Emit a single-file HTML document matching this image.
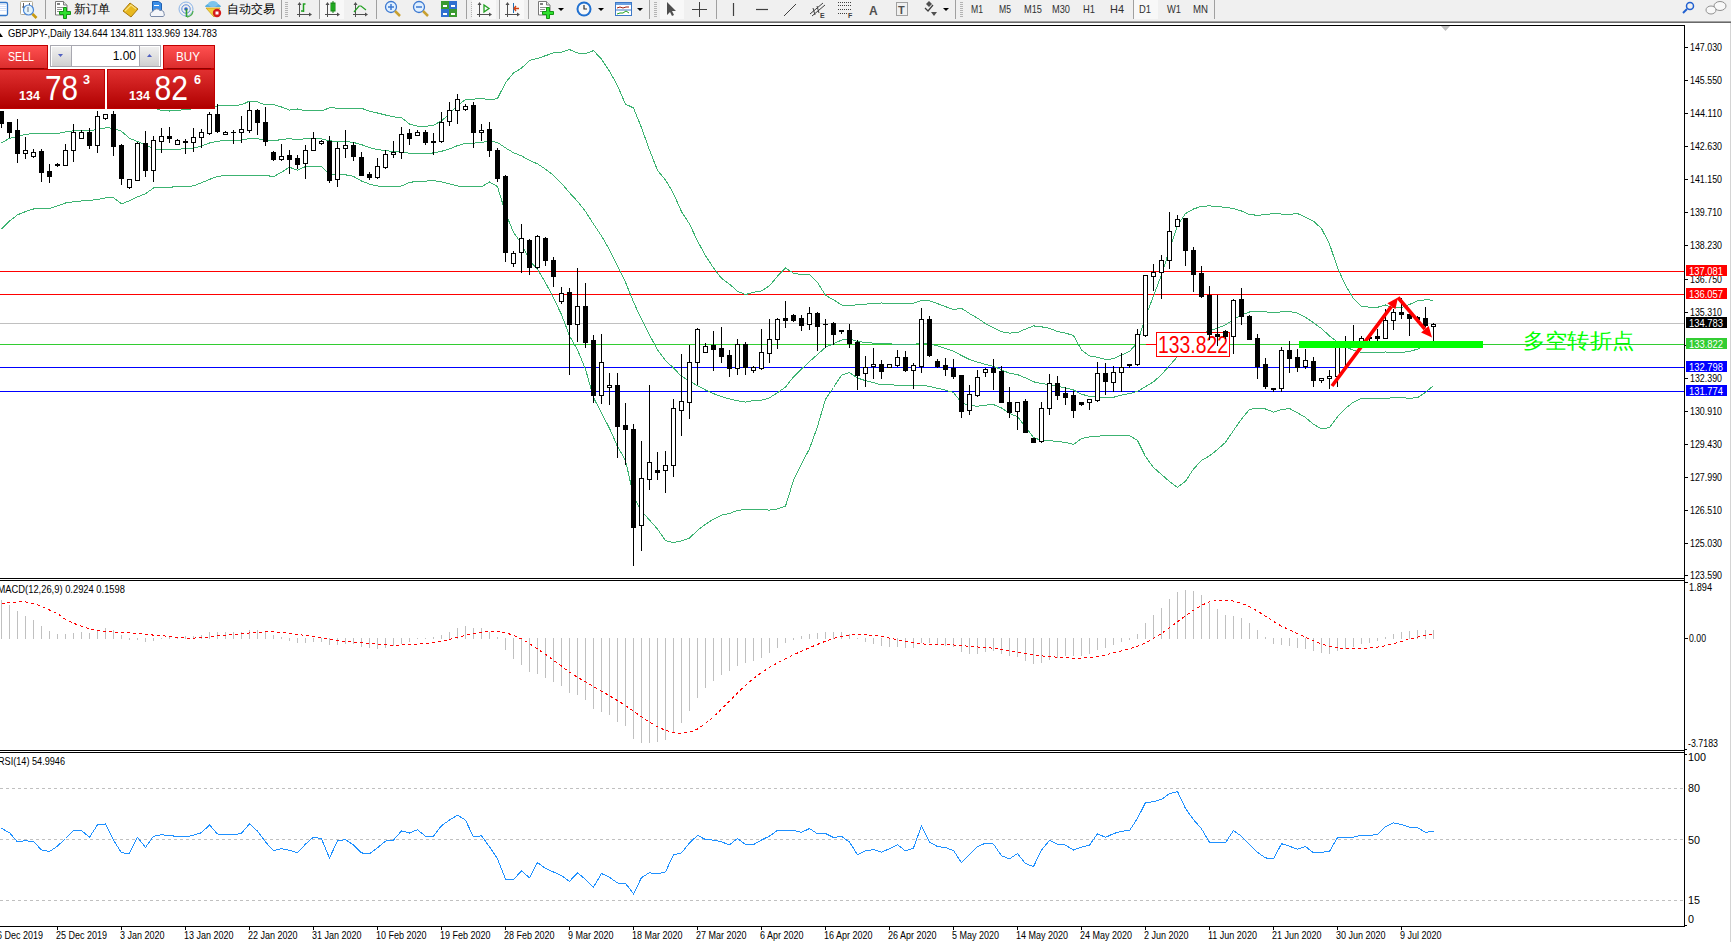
<!DOCTYPE html>
<html><head><meta charset="utf-8"><style>
html,body{margin:0;padding:0;background:#fff;}
body{width:1731px;height:942px;overflow:hidden;position:relative;}
svg{position:absolute;left:0;top:0;display:block;}
</style></head><body>
<svg width="1731" height="942" viewBox="0 0 1731 942" font-family="Liberation Sans, sans-serif">
<rect x="0" y="23" width="1731" height="919" fill="#fff"/>
<rect x="1730" y="23" width="1" height="919" fill="#d4d4d4"/>
<rect x="0" y="271" width="1684" height="1" fill="#ff0000"/>
<rect x="0" y="294" width="1684" height="1" fill="#ff0000"/>
<rect x="0" y="323" width="1684" height="1" fill="#c0c0c0"/>
<rect x="0" y="344" width="1146" height="1" fill="#32cd32"/>
<rect x="1146" y="344" width="11" height="1" fill="#ff0000"/>
<rect x="1230" y="344" width="454" height="1" fill="#32cd32"/>
<rect x="0" y="367" width="1684" height="1" fill="#0000ff"/>
<rect x="0" y="391" width="1684" height="1" fill="#0000ff"/>
<polyline points="153.5,108.2 161.5,110.3 169.5,111.0 177.5,110.3 185.5,109.7 193.5,108.7 201.5,107.8 209.5,106.6 217.5,106.1 225.5,105.2 233.5,105.2 241.5,104.9 249.5,101.1 257.5,101.9 265.5,105.0 273.5,104.7 281.5,107.0 289.5,110.1 297.5,109.0 305.5,110.9 313.5,110.8 321.5,111.0 329.5,107.8 337.5,108.1 345.5,108.2 353.5,108.5 361.5,108.2 369.5,111.3 377.5,113.0 385.5,115.0 393.5,116.9 401.5,117.7 409.5,124.0 417.5,126.2 425.5,126.4 433.5,125.3 441.5,120.8 449.5,113.9 457.5,105.3 465.5,99.7 473.5,99.2 481.5,98.2 489.5,100.0 497.5,98.5 505.5,82.8 513.5,72.9 521.5,68.2 529.5,60.3 537.5,58.4 545.5,55.7 553.5,52.9 561.5,52.1 569.5,49.6 577.5,53.0 585.5,53.6 593.5,50.6 601.5,59.1 609.5,71.1 617.5,85.7 625.5,104.2 633.5,107.9 641.5,127.7 649.5,150.0 657.5,170.3 665.5,180.0 673.5,193.5 681.5,211.7 689.5,224.0 697.5,241.0 705.5,255.6 713.5,268.0 721.5,278.3 729.5,284.2 737.5,291.2 745.5,294.6 753.5,292.2 761.5,291.0 769.5,285.7 777.5,276.2 785.5,268.0 793.5,273.2 801.5,274.5 809.5,274.5 817.5,282.3 825.5,295.4 833.5,299.7 841.5,305.0 849.5,305.6 857.5,304.7 865.5,304.1 873.5,303.7 881.5,303.0 889.5,303.2 897.5,303.3 905.5,303.1 913.5,303.2 921.5,300.4 929.5,300.9 937.5,303.6 945.5,306.6 953.5,309.7 961.5,308.3 969.5,313.5 977.5,318.1 985.5,323.6 993.5,327.9 1001.5,331.8 1009.5,333.1 1017.5,332.5 1025.5,329.1 1033.5,325.9 1041.5,326.8 1049.5,328.4 1057.5,331.5 1065.5,333.1 1073.5,335.5 1081.5,350.0 1089.5,355.9 1097.5,357.3 1105.5,359.4 1113.5,358.8 1121.5,355.0 1129.5,351.5 1137.5,342.5 1145.5,316.9 1153.5,296.1 1161.5,274.8 1169.5,249.7 1177.5,225.6 1185.5,213.6 1193.5,209.0 1201.5,206.3 1209.5,205.9 1217.5,206.4 1225.5,207.5 1233.5,208.4 1241.5,211.0 1249.5,214.7 1257.5,215.2 1265.5,214.8 1273.5,213.3 1281.5,214.1 1289.5,214.4 1297.5,213.5 1305.5,217.2 1313.5,221.2 1321.5,228.5 1329.5,244.1 1337.5,267.6 1345.5,285.4 1353.5,298.6 1361.5,306.6 1369.5,307.1 1377.5,307.3 1385.5,305.0 1393.5,307.9 1401.5,307.7 1409.5,304.5 1417.5,300.7 1425.5,299.8 1433.5,300.2" fill="none" stroke="#3cb371" stroke-width="1" shape-rendering="crispEdges"/>
<polyline points="1.5,142.8 9.5,138.3 17.5,136.4 25.5,134.5 33.5,133.5 41.5,133.5 49.5,133.5 57.5,133.5 65.5,132.0 73.5,130.7 81.5,130.7 89.5,130.7 97.5,129.4 105.5,127.9 113.5,128.1 121.5,131.3 129.5,138.3 137.5,141.5 145.5,144.7 153.5,148.9 161.5,149.6 169.5,149.9 177.5,149.2 185.5,148.8 193.5,148.0 201.5,146.1 209.5,143.0 217.5,141.3 225.5,140.3 233.5,140.3 241.5,140.2 249.5,138.5 257.5,138.8 265.5,140.1 273.5,140.7 281.5,139.6 289.5,138.6 297.5,139.7 305.5,138.7 313.5,138.6 321.5,138.8 329.5,140.9 337.5,141.3 345.5,141.5 353.5,142.5 361.5,144.6 369.5,147.7 377.5,149.5 385.5,150.6 393.5,151.6 401.5,151.9 409.5,153.2 417.5,153.7 425.5,153.8 433.5,152.9 441.5,151.3 449.5,148.9 457.5,145.6 465.5,143.4 473.5,143.1 481.5,142.5 489.5,141.0 497.5,142.5 505.5,147.9 513.5,152.7 521.5,155.9 529.5,160.4 537.5,163.9 545.5,169.2 553.5,175.4 561.5,183.4 569.5,192.7 577.5,201.4 585.5,211.4 593.5,224.1 601.5,236.0 609.5,249.8 617.5,266.1 625.5,282.3 633.5,302.0 641.5,319.4 649.5,335.0 657.5,349.7 665.5,360.4 673.5,368.1 681.5,376.3 689.5,381.0 697.5,385.7 705.5,390.0 713.5,393.6 721.5,396.7 729.5,398.9 737.5,400.8 745.5,402.1 753.5,400.6 761.5,400.2 769.5,397.9 777.5,392.6 785.5,387.1 793.5,376.8 801.5,369.1 809.5,361.6 817.5,354.4 825.5,347.3 833.5,343.6 841.5,340.1 849.5,339.1 857.5,341.4 865.5,342.4 873.5,343.2 881.5,343.9 889.5,343.8 897.5,344.4 905.5,344.6 913.5,344.5 921.5,342.8 929.5,343.6 937.5,345.9 945.5,348.4 953.5,351.2 961.5,355.5 969.5,359.5 977.5,362.1 985.5,364.4 993.5,366.3 1001.5,369.8 1009.5,373.3 1017.5,374.6 1025.5,377.9 1033.5,381.8 1041.5,383.6 1049.5,384.6 1057.5,386.4 1065.5,387.8 1073.5,390.0 1081.5,394.2 1089.5,396.4 1097.5,396.8 1105.5,397.4 1113.5,397.3 1121.5,395.1 1129.5,393.6 1137.5,391.4 1145.5,386.7 1153.5,381.8 1161.5,374.6 1169.5,365.6 1177.5,356.5 1185.5,347.4 1193.5,339.0 1201.5,333.4 1209.5,330.9 1217.5,328.0 1225.5,324.9 1233.5,319.4 1241.5,315.0 1249.5,312.0 1257.5,311.7 1265.5,311.9 1273.5,312.7 1281.5,311.9 1289.5,311.5 1297.5,313.1 1305.5,317.4 1313.5,322.7 1321.5,328.6 1329.5,335.9 1337.5,342.2 1345.5,346.9 1353.5,350.3 1361.5,352.5 1369.5,352.7 1377.5,352.8 1385.5,352.0 1393.5,352.6 1401.5,352.5 1409.5,351.5 1417.5,349.1 1425.5,346.1 1433.5,342.8" fill="none" stroke="#3cb371" stroke-width="1" shape-rendering="crispEdges"/>
<polyline points="1.5,228.8 9.5,221.1 17.5,214.8 25.5,211.6 33.5,209.0 41.5,208.7 49.5,208.4 57.5,205.9 65.5,203.0 73.5,201.8 81.5,201.0 89.5,200.5 97.5,199.5 105.5,198.0 113.5,197.6 121.5,203.9 129.5,200.8 137.5,196.9 145.5,193.7 153.5,188.0 161.5,187.3 169.5,187.2 177.5,186.7 185.5,186.4 193.5,185.9 201.5,182.8 209.5,179.4 217.5,176.4 225.5,175.4 233.5,175.4 241.5,175.4 249.5,175.9 257.5,175.6 265.5,175.2 273.5,176.8 281.5,172.2 289.5,167.2 297.5,170.3 305.5,166.5 313.5,166.4 321.5,166.6 329.5,174.0 337.5,174.5 345.5,174.8 353.5,176.4 361.5,181.0 369.5,184.1 377.5,186.0 385.5,186.3 393.5,186.3 401.5,186.0 409.5,182.5 417.5,181.2 425.5,181.1 433.5,180.6 441.5,181.8 449.5,183.8 457.5,185.9 465.5,187.0 473.5,186.9 481.5,186.7 489.5,182.0 497.5,186.6 505.5,212.9 513.5,232.4 521.5,243.5 529.5,260.5 537.5,269.3 545.5,282.7 553.5,297.9 561.5,314.6 569.5,335.8 577.5,349.9 585.5,369.2 593.5,397.6 601.5,413.0 609.5,428.4 617.5,446.5 625.5,460.3 633.5,496.1 641.5,511.2 649.5,520.0 657.5,529.1 665.5,540.7 673.5,542.7 681.5,540.8 689.5,538.1 697.5,530.4 705.5,524.3 713.5,519.2 721.5,515.2 729.5,513.5 737.5,510.4 745.5,509.5 753.5,509.1 761.5,509.4 769.5,510.1 777.5,508.9 785.5,506.2 793.5,480.3 801.5,463.7 809.5,448.8 817.5,426.5 825.5,399.2 833.5,387.5 841.5,375.1 849.5,372.6 857.5,378.0 865.5,380.7 873.5,382.6 881.5,384.9 889.5,384.4 897.5,385.5 905.5,386.0 913.5,385.7 921.5,385.3 929.5,386.3 937.5,388.3 945.5,390.1 953.5,392.6 961.5,402.7 969.5,405.6 977.5,406.2 985.5,405.1 993.5,404.6 1001.5,407.9 1009.5,413.5 1017.5,416.7 1025.5,426.7 1033.5,437.6 1041.5,440.4 1049.5,440.7 1057.5,441.4 1065.5,442.4 1073.5,444.5 1081.5,438.4 1089.5,436.9 1097.5,436.3 1105.5,435.5 1113.5,435.7 1121.5,435.1 1129.5,435.6 1137.5,440.4 1145.5,456.6 1153.5,467.4 1161.5,474.5 1169.5,481.6 1177.5,487.4 1185.5,481.2 1193.5,469.0 1201.5,460.5 1209.5,455.9 1217.5,449.5 1225.5,442.3 1233.5,430.5 1241.5,419.1 1249.5,409.4 1257.5,408.1 1265.5,409.0 1273.5,412.1 1281.5,409.6 1289.5,408.5 1297.5,412.8 1305.5,417.5 1313.5,424.3 1321.5,428.8 1329.5,427.6 1337.5,416.7 1345.5,408.4 1353.5,402.1 1361.5,398.3 1369.5,398.2 1377.5,398.2 1385.5,399.0 1393.5,397.3 1401.5,397.4 1409.5,398.4 1417.5,397.6 1425.5,392.4 1433.5,385.5" fill="none" stroke="#3cb371" stroke-width="1" shape-rendering="crispEdges"/>
<rect x="1156.5" y="332.5" width="73" height="24" fill="#fff" stroke="#ff0000" stroke-width="1"/>
<text x="1158" y="353" font-size="23" fill="#ff0000" text-anchor="start" font-weight="normal" textLength="70" lengthAdjust="spacingAndGlyphs" >133.822</text>
<g shape-rendering="crispEdges"><rect x="1" y="111" width="1" height="17" fill="#000"/><rect x="-1" y="111" width="5" height="13" fill="#000"/><rect x="9" y="122" width="1" height="16" fill="#000"/><rect x="7" y="122" width="5" height="11" fill="#000"/><rect x="17" y="119" width="1" height="44" fill="#000"/><rect x="15" y="130" width="5" height="24" fill="#000"/><rect x="25" y="137" width="1" height="22" fill="#000"/><rect x="23" y="150" width="5" height="4" fill="#000"/><rect x="24" y="151" width="3" height="2" fill="#fff"/><rect x="33" y="149" width="1" height="9" fill="#000"/><rect x="31" y="152" width="5" height="5" fill="#000"/><rect x="32" y="153" width="3" height="3" fill="#fff"/><rect x="41" y="149" width="1" height="33" fill="#000"/><rect x="39" y="151" width="5" height="22" fill="#000"/><rect x="49" y="164" width="1" height="19" fill="#000"/><rect x="47" y="171" width="5" height="6" fill="#000"/><rect x="57" y="163" width="1" height="4" fill="#000"/><rect x="55" y="164" width="5" height="2" fill="#000"/><rect x="65" y="144" width="1" height="22" fill="#000"/><rect x="63" y="150" width="5" height="16" fill="#000"/><rect x="64" y="151" width="3" height="14" fill="#fff"/><rect x="73" y="124" width="1" height="38" fill="#000"/><rect x="71" y="132" width="5" height="19" fill="#000"/><rect x="72" y="133" width="3" height="17" fill="#fff"/><rect x="81" y="130" width="1" height="9" fill="#000"/><rect x="79" y="132" width="5" height="7" fill="#000"/><rect x="80" y="133" width="3" height="5" fill="#fff"/><rect x="89" y="128" width="1" height="21" fill="#000"/><rect x="87" y="132" width="5" height="14" fill="#000"/><rect x="97" y="111" width="1" height="42" fill="#000"/><rect x="95" y="116" width="5" height="30" fill="#000"/><rect x="96" y="117" width="3" height="28" fill="#fff"/><rect x="105" y="114" width="1" height="6" fill="#000"/><rect x="103" y="114" width="5" height="5" fill="#000"/><rect x="104" y="115" width="3" height="3" fill="#fff"/><rect x="113" y="111" width="1" height="45" fill="#000"/><rect x="111" y="114" width="5" height="33" fill="#000"/><rect x="121" y="144" width="1" height="41" fill="#000"/><rect x="119" y="145" width="5" height="34" fill="#000"/><rect x="129" y="179" width="1" height="10" fill="#000"/><rect x="127" y="179" width="5" height="9" fill="#000"/><rect x="128" y="180" width="3" height="7" fill="#fff"/><rect x="137" y="142" width="1" height="39" fill="#000"/><rect x="135" y="143" width="5" height="38" fill="#000"/><rect x="136" y="144" width="3" height="36" fill="#fff"/><rect x="145" y="131" width="1" height="46" fill="#000"/><rect x="143" y="143" width="5" height="28" fill="#000"/><rect x="153" y="136" width="1" height="46" fill="#000"/><rect x="151" y="140" width="5" height="31" fill="#000"/><rect x="152" y="141" width="3" height="29" fill="#fff"/><rect x="161" y="128" width="1" height="25" fill="#000"/><rect x="159" y="136" width="5" height="6" fill="#000"/><rect x="160" y="137" width="3" height="4" fill="#fff"/><rect x="169" y="127" width="1" height="16" fill="#000"/><rect x="167" y="136" width="5" height="3" fill="#000"/><rect x="177" y="139" width="1" height="6" fill="#000"/><rect x="175" y="140" width="5" height="5" fill="#000"/><rect x="176" y="141" width="3" height="3" fill="#fff"/><rect x="185" y="139" width="1" height="15" fill="#000"/><rect x="183" y="141" width="5" height="2" fill="#000"/><rect x="193" y="128" width="1" height="24" fill="#000"/><rect x="191" y="137" width="5" height="6" fill="#000"/><rect x="192" y="138" width="3" height="4" fill="#fff"/><rect x="201" y="129" width="1" height="19" fill="#000"/><rect x="199" y="132" width="5" height="6" fill="#000"/><rect x="200" y="133" width="3" height="4" fill="#fff"/><rect x="209" y="112" width="1" height="23" fill="#000"/><rect x="207" y="114" width="5" height="20" fill="#000"/><rect x="208" y="115" width="3" height="18" fill="#fff"/><rect x="217" y="104" width="1" height="29" fill="#000"/><rect x="215" y="114" width="5" height="18" fill="#000"/><rect x="225" y="131" width="1" height="4" fill="#000"/><rect x="223" y="132" width="5" height="3" fill="#000"/><rect x="224" y="133" width="3" height="1" fill="#fff"/><rect x="233" y="130" width="1" height="14" fill="#000"/><rect x="231" y="132" width="5" height="1" fill="#000"/><rect x="241" y="116" width="1" height="27" fill="#000"/><rect x="239" y="129" width="5" height="4" fill="#000"/><rect x="240" y="130" width="3" height="2" fill="#fff"/><rect x="249" y="102" width="1" height="31" fill="#000"/><rect x="247" y="110" width="5" height="21" fill="#000"/><rect x="248" y="111" width="3" height="19" fill="#fff"/><rect x="257" y="109" width="1" height="26" fill="#000"/><rect x="255" y="110" width="5" height="13" fill="#000"/><rect x="265" y="107" width="1" height="39" fill="#000"/><rect x="263" y="122" width="5" height="20" fill="#000"/><rect x="273" y="151" width="1" height="10" fill="#000"/><rect x="271" y="152" width="5" height="8" fill="#000"/><rect x="281" y="144" width="1" height="17" fill="#000"/><rect x="279" y="156" width="5" height="4" fill="#000"/><rect x="280" y="157" width="3" height="2" fill="#fff"/><rect x="289" y="150" width="1" height="24" fill="#000"/><rect x="287" y="155" width="5" height="5" fill="#000"/><rect x="297" y="155" width="1" height="14" fill="#000"/><rect x="295" y="158" width="5" height="7" fill="#000"/><rect x="305" y="145" width="1" height="34" fill="#000"/><rect x="303" y="150" width="5" height="14" fill="#000"/><rect x="304" y="151" width="3" height="12" fill="#fff"/><rect x="313" y="132" width="1" height="19" fill="#000"/><rect x="311" y="138" width="5" height="13" fill="#000"/><rect x="312" y="139" width="3" height="11" fill="#fff"/><rect x="321" y="140" width="1" height="5" fill="#000"/><rect x="319" y="141" width="5" height="3" fill="#000"/><rect x="320" y="142" width="3" height="1" fill="#fff"/><rect x="329" y="136" width="1" height="47" fill="#000"/><rect x="327" y="141" width="5" height="40" fill="#000"/><rect x="337" y="142" width="1" height="45" fill="#000"/><rect x="335" y="148" width="5" height="32" fill="#000"/><rect x="336" y="149" width="3" height="30" fill="#fff"/><rect x="345" y="130" width="1" height="28" fill="#000"/><rect x="343" y="145" width="5" height="4" fill="#000"/><rect x="344" y="146" width="3" height="2" fill="#fff"/><rect x="353" y="142" width="1" height="19" fill="#000"/><rect x="351" y="145" width="5" height="12" fill="#000"/><rect x="361" y="152" width="1" height="24" fill="#000"/><rect x="359" y="157" width="5" height="19" fill="#000"/><rect x="369" y="172" width="1" height="8" fill="#000"/><rect x="367" y="174" width="5" height="4" fill="#000"/><rect x="377" y="158" width="1" height="21" fill="#000"/><rect x="375" y="166" width="5" height="12" fill="#000"/><rect x="376" y="167" width="3" height="10" fill="#fff"/><rect x="385" y="150" width="1" height="19" fill="#000"/><rect x="383" y="154" width="5" height="14" fill="#000"/><rect x="384" y="155" width="3" height="12" fill="#fff"/><rect x="393" y="141" width="1" height="17" fill="#000"/><rect x="391" y="152" width="5" height="3" fill="#000"/><rect x="392" y="153" width="3" height="1" fill="#fff"/><rect x="401" y="127" width="1" height="32" fill="#000"/><rect x="399" y="134" width="5" height="19" fill="#000"/><rect x="400" y="135" width="3" height="17" fill="#fff"/><rect x="409" y="129" width="1" height="16" fill="#000"/><rect x="407" y="133" width="5" height="6" fill="#000"/><rect x="417" y="130" width="1" height="6" fill="#000"/><rect x="415" y="132" width="5" height="4" fill="#000"/><rect x="416" y="133" width="3" height="2" fill="#fff"/><rect x="425" y="130" width="1" height="15" fill="#000"/><rect x="423" y="132" width="5" height="11" fill="#000"/><rect x="433" y="133" width="1" height="22" fill="#000"/><rect x="431" y="141" width="5" height="2" fill="#000"/><rect x="441" y="112" width="1" height="31" fill="#000"/><rect x="439" y="122" width="5" height="20" fill="#000"/><rect x="440" y="123" width="3" height="18" fill="#fff"/><rect x="449" y="102" width="1" height="24" fill="#000"/><rect x="447" y="110" width="5" height="12" fill="#000"/><rect x="448" y="111" width="3" height="10" fill="#fff"/><rect x="457" y="94" width="1" height="30" fill="#000"/><rect x="455" y="99" width="5" height="12" fill="#000"/><rect x="456" y="100" width="3" height="10" fill="#fff"/><rect x="465" y="104" width="1" height="7" fill="#000"/><rect x="463" y="106" width="5" height="4" fill="#000"/><rect x="464" y="107" width="3" height="2" fill="#fff"/><rect x="473" y="102" width="1" height="46" fill="#000"/><rect x="471" y="105" width="5" height="28" fill="#000"/><rect x="481" y="124" width="1" height="17" fill="#000"/><rect x="479" y="130" width="5" height="3" fill="#000"/><rect x="480" y="131" width="3" height="1" fill="#fff"/><rect x="489" y="122" width="1" height="35" fill="#000"/><rect x="487" y="129" width="5" height="22" fill="#000"/><rect x="497" y="148" width="1" height="34" fill="#000"/><rect x="495" y="150" width="5" height="29" fill="#000"/><rect x="505" y="175" width="1" height="87" fill="#000"/><rect x="503" y="176" width="5" height="77" fill="#000"/><rect x="513" y="251" width="1" height="16" fill="#000"/><rect x="511" y="253" width="5" height="11" fill="#000"/><rect x="512" y="254" width="3" height="9" fill="#fff"/><rect x="521" y="224" width="1" height="49" fill="#000"/><rect x="519" y="238" width="5" height="15" fill="#000"/><rect x="520" y="239" width="3" height="13" fill="#fff"/><rect x="529" y="239" width="1" height="36" fill="#000"/><rect x="527" y="240" width="5" height="28" fill="#000"/><rect x="537" y="235" width="1" height="34" fill="#000"/><rect x="535" y="236" width="5" height="32" fill="#000"/><rect x="536" y="237" width="3" height="30" fill="#fff"/><rect x="545" y="237" width="1" height="29" fill="#000"/><rect x="543" y="238" width="5" height="23" fill="#000"/><rect x="553" y="257" width="1" height="30" fill="#000"/><rect x="551" y="260" width="5" height="17" fill="#000"/><rect x="561" y="287" width="1" height="17" fill="#000"/><rect x="559" y="293" width="5" height="9" fill="#000"/><rect x="560" y="294" width="3" height="7" fill="#fff"/><rect x="569" y="288" width="1" height="87" fill="#000"/><rect x="567" y="292" width="5" height="33" fill="#000"/><rect x="577" y="268" width="1" height="74" fill="#000"/><rect x="575" y="306" width="5" height="19" fill="#000"/><rect x="576" y="307" width="3" height="17" fill="#fff"/><rect x="585" y="283" width="1" height="65" fill="#000"/><rect x="583" y="306" width="5" height="37" fill="#000"/><rect x="593" y="335" width="1" height="68" fill="#000"/><rect x="591" y="340" width="5" height="56" fill="#000"/><rect x="601" y="334" width="1" height="70" fill="#000"/><rect x="599" y="362" width="5" height="34" fill="#000"/><rect x="600" y="363" width="3" height="32" fill="#fff"/><rect x="609" y="373" width="1" height="32" fill="#000"/><rect x="607" y="385" width="5" height="3" fill="#000"/><rect x="608" y="386" width="3" height="1" fill="#fff"/><rect x="617" y="373" width="1" height="85" fill="#000"/><rect x="615" y="385" width="5" height="42" fill="#000"/><rect x="625" y="403" width="1" height="62" fill="#000"/><rect x="623" y="425" width="5" height="5" fill="#000"/><rect x="633" y="424" width="1" height="142" fill="#000"/><rect x="631" y="429" width="5" height="99" fill="#000"/><rect x="641" y="441" width="1" height="110" fill="#000"/><rect x="639" y="478" width="5" height="48" fill="#000"/><rect x="640" y="479" width="3" height="46" fill="#fff"/><rect x="649" y="385" width="1" height="105" fill="#000"/><rect x="647" y="462" width="5" height="18" fill="#000"/><rect x="648" y="463" width="3" height="16" fill="#fff"/><rect x="657" y="452" width="1" height="28" fill="#000"/><rect x="655" y="470" width="5" height="3" fill="#000"/><rect x="665" y="451" width="1" height="42" fill="#000"/><rect x="663" y="465" width="5" height="6" fill="#000"/><rect x="664" y="466" width="3" height="4" fill="#fff"/><rect x="673" y="399" width="1" height="78" fill="#000"/><rect x="671" y="408" width="5" height="58" fill="#000"/><rect x="672" y="409" width="3" height="56" fill="#fff"/><rect x="681" y="354" width="1" height="82" fill="#000"/><rect x="679" y="401" width="5" height="10" fill="#000"/><rect x="680" y="402" width="3" height="8" fill="#fff"/><rect x="689" y="345" width="1" height="74" fill="#000"/><rect x="687" y="362" width="5" height="41" fill="#000"/><rect x="688" y="363" width="3" height="39" fill="#fff"/><rect x="697" y="328" width="1" height="57" fill="#000"/><rect x="695" y="329" width="5" height="34" fill="#000"/><rect x="696" y="330" width="3" height="32" fill="#fff"/><rect x="705" y="343" width="1" height="10" fill="#000"/><rect x="703" y="346" width="5" height="7" fill="#000"/><rect x="704" y="347" width="3" height="5" fill="#fff"/><rect x="713" y="331" width="1" height="40" fill="#000"/><rect x="711" y="345" width="5" height="5" fill="#000"/><rect x="721" y="327" width="1" height="36" fill="#000"/><rect x="719" y="348" width="5" height="9" fill="#000"/><rect x="729" y="350" width="1" height="27" fill="#000"/><rect x="727" y="355" width="5" height="14" fill="#000"/><rect x="737" y="339" width="1" height="36" fill="#000"/><rect x="735" y="344" width="5" height="25" fill="#000"/><rect x="736" y="345" width="3" height="23" fill="#fff"/><rect x="745" y="342" width="1" height="33" fill="#000"/><rect x="743" y="344" width="5" height="24" fill="#000"/><rect x="753" y="366" width="1" height="7" fill="#000"/><rect x="751" y="367" width="5" height="4" fill="#000"/><rect x="752" y="368" width="3" height="2" fill="#fff"/><rect x="761" y="329" width="1" height="41" fill="#000"/><rect x="759" y="352" width="5" height="17" fill="#000"/><rect x="760" y="353" width="3" height="15" fill="#fff"/><rect x="769" y="319" width="1" height="44" fill="#000"/><rect x="767" y="339" width="5" height="15" fill="#000"/><rect x="768" y="340" width="3" height="13" fill="#fff"/><rect x="777" y="318" width="1" height="31" fill="#000"/><rect x="775" y="319" width="5" height="21" fill="#000"/><rect x="776" y="320" width="3" height="19" fill="#fff"/><rect x="785" y="301" width="1" height="27" fill="#000"/><rect x="783" y="318" width="5" height="3" fill="#000"/><rect x="793" y="314" width="1" height="8" fill="#000"/><rect x="791" y="315" width="5" height="6" fill="#000"/><rect x="801" y="315" width="1" height="16" fill="#000"/><rect x="799" y="318" width="5" height="8" fill="#000"/><rect x="809" y="307" width="1" height="23" fill="#000"/><rect x="807" y="313" width="5" height="12" fill="#000"/><rect x="808" y="314" width="3" height="10" fill="#fff"/><rect x="817" y="312" width="1" height="39" fill="#000"/><rect x="815" y="313" width="5" height="14" fill="#000"/><rect x="825" y="319" width="1" height="29" fill="#000"/><rect x="823" y="324" width="5" height="1" fill="#000"/><rect x="833" y="322" width="1" height="23" fill="#000"/><rect x="831" y="323" width="5" height="12" fill="#000"/><rect x="841" y="330" width="1" height="4" fill="#000"/><rect x="839" y="330" width="5" height="2" fill="#000"/><rect x="849" y="324" width="1" height="24" fill="#000"/><rect x="847" y="330" width="5" height="14" fill="#000"/><rect x="857" y="340" width="1" height="50" fill="#000"/><rect x="855" y="342" width="5" height="34" fill="#000"/><rect x="865" y="356" width="1" height="31" fill="#000"/><rect x="863" y="367" width="5" height="7" fill="#000"/><rect x="864" y="368" width="3" height="5" fill="#fff"/><rect x="873" y="348" width="1" height="31" fill="#000"/><rect x="871" y="364" width="5" height="3" fill="#000"/><rect x="872" y="365" width="3" height="1" fill="#fff"/><rect x="881" y="360" width="1" height="19" fill="#000"/><rect x="879" y="364" width="5" height="8" fill="#000"/><rect x="889" y="364" width="1" height="4" fill="#000"/><rect x="887" y="364" width="5" height="4" fill="#000"/><rect x="888" y="365" width="3" height="2" fill="#fff"/><rect x="897" y="350" width="1" height="17" fill="#000"/><rect x="895" y="357" width="5" height="9" fill="#000"/><rect x="896" y="358" width="3" height="7" fill="#fff"/><rect x="905" y="351" width="1" height="21" fill="#000"/><rect x="903" y="357" width="5" height="14" fill="#000"/><rect x="913" y="363" width="1" height="26" fill="#000"/><rect x="911" y="365" width="5" height="6" fill="#000"/><rect x="912" y="366" width="3" height="4" fill="#fff"/><rect x="921" y="308" width="1" height="65" fill="#000"/><rect x="919" y="319" width="5" height="48" fill="#000"/><rect x="920" y="320" width="3" height="46" fill="#fff"/><rect x="929" y="316" width="1" height="41" fill="#000"/><rect x="927" y="319" width="5" height="37" fill="#000"/><rect x="937" y="359" width="1" height="9" fill="#000"/><rect x="935" y="361" width="5" height="6" fill="#000"/><rect x="945" y="358" width="1" height="18" fill="#000"/><rect x="943" y="365" width="5" height="5" fill="#000"/><rect x="953" y="359" width="1" height="20" fill="#000"/><rect x="951" y="368" width="5" height="9" fill="#000"/><rect x="961" y="375" width="1" height="43" fill="#000"/><rect x="959" y="375" width="5" height="37" fill="#000"/><rect x="969" y="385" width="1" height="30" fill="#000"/><rect x="967" y="394" width="5" height="17" fill="#000"/><rect x="968" y="395" width="3" height="15" fill="#fff"/><rect x="977" y="370" width="1" height="27" fill="#000"/><rect x="975" y="377" width="5" height="19" fill="#000"/><rect x="976" y="378" width="3" height="17" fill="#fff"/><rect x="985" y="368" width="1" height="9" fill="#000"/><rect x="983" y="369" width="5" height="4" fill="#000"/><rect x="984" y="370" width="3" height="2" fill="#fff"/><rect x="993" y="359" width="1" height="31" fill="#000"/><rect x="991" y="368" width="5" height="5" fill="#000"/><rect x="1001" y="366" width="1" height="37" fill="#000"/><rect x="999" y="371" width="5" height="32" fill="#000"/><rect x="1009" y="387" width="1" height="31" fill="#000"/><rect x="1007" y="402" width="5" height="11" fill="#000"/><rect x="1017" y="402" width="1" height="28" fill="#000"/><rect x="1015" y="402" width="5" height="10" fill="#000"/><rect x="1016" y="403" width="3" height="8" fill="#fff"/><rect x="1025" y="399" width="1" height="34" fill="#000"/><rect x="1023" y="401" width="5" height="32" fill="#000"/><rect x="1033" y="438" width="1" height="5" fill="#000"/><rect x="1031" y="438" width="5" height="5" fill="#000"/><rect x="1041" y="402" width="1" height="41" fill="#000"/><rect x="1039" y="408" width="5" height="34" fill="#000"/><rect x="1040" y="409" width="3" height="32" fill="#fff"/><rect x="1049" y="374" width="1" height="41" fill="#000"/><rect x="1047" y="383" width="5" height="26" fill="#000"/><rect x="1048" y="384" width="3" height="24" fill="#fff"/><rect x="1057" y="376" width="1" height="24" fill="#000"/><rect x="1055" y="383" width="5" height="13" fill="#000"/><rect x="1065" y="387" width="1" height="18" fill="#000"/><rect x="1063" y="393" width="5" height="5" fill="#000"/><rect x="1073" y="391" width="1" height="27" fill="#000"/><rect x="1071" y="395" width="5" height="16" fill="#000"/><rect x="1081" y="402" width="1" height="4" fill="#000"/><rect x="1079" y="402" width="5" height="3" fill="#000"/><rect x="1089" y="399" width="1" height="11" fill="#000"/><rect x="1087" y="399" width="5" height="4" fill="#000"/><rect x="1088" y="400" width="3" height="2" fill="#fff"/><rect x="1097" y="362" width="1" height="40" fill="#000"/><rect x="1095" y="373" width="5" height="28" fill="#000"/><rect x="1096" y="374" width="3" height="26" fill="#fff"/><rect x="1105" y="363" width="1" height="32" fill="#000"/><rect x="1103" y="373" width="5" height="9" fill="#000"/><rect x="1113" y="366" width="1" height="26" fill="#000"/><rect x="1111" y="372" width="5" height="11" fill="#000"/><rect x="1112" y="373" width="3" height="9" fill="#fff"/><rect x="1121" y="353" width="1" height="39" fill="#000"/><rect x="1119" y="367" width="5" height="6" fill="#000"/><rect x="1120" y="368" width="3" height="4" fill="#fff"/><rect x="1129" y="364" width="1" height="4" fill="#000"/><rect x="1127" y="364" width="5" height="2" fill="#000"/><rect x="1137" y="329" width="1" height="37" fill="#000"/><rect x="1135" y="334" width="5" height="31" fill="#000"/><rect x="1136" y="335" width="3" height="29" fill="#fff"/><rect x="1145" y="275" width="1" height="62" fill="#000"/><rect x="1143" y="275" width="5" height="61" fill="#000"/><rect x="1144" y="276" width="3" height="59" fill="#fff"/><rect x="1153" y="264" width="1" height="27" fill="#000"/><rect x="1151" y="272" width="5" height="5" fill="#000"/><rect x="1152" y="273" width="3" height="3" fill="#fff"/><rect x="1161" y="255" width="1" height="44" fill="#000"/><rect x="1159" y="260" width="5" height="13" fill="#000"/><rect x="1160" y="261" width="3" height="11" fill="#fff"/><rect x="1169" y="212" width="1" height="57" fill="#000"/><rect x="1167" y="231" width="5" height="30" fill="#000"/><rect x="1168" y="232" width="3" height="28" fill="#fff"/><rect x="1177" y="215" width="1" height="12" fill="#000"/><rect x="1175" y="219" width="5" height="8" fill="#000"/><rect x="1176" y="220" width="3" height="6" fill="#fff"/><rect x="1185" y="218" width="1" height="48" fill="#000"/><rect x="1183" y="218" width="5" height="33" fill="#000"/><rect x="1193" y="247" width="1" height="45" fill="#000"/><rect x="1191" y="250" width="5" height="25" fill="#000"/><rect x="1201" y="266" width="1" height="32" fill="#000"/><rect x="1199" y="273" width="5" height="24" fill="#000"/><rect x="1209" y="286" width="1" height="54" fill="#000"/><rect x="1207" y="295" width="5" height="40" fill="#000"/><rect x="1217" y="295" width="1" height="51" fill="#000"/><rect x="1215" y="334" width="5" height="3" fill="#000"/><rect x="1225" y="330" width="1" height="9" fill="#000"/><rect x="1223" y="331" width="5" height="6" fill="#000"/><rect x="1233" y="299" width="1" height="55" fill="#000"/><rect x="1231" y="300" width="5" height="37" fill="#000"/><rect x="1232" y="301" width="3" height="35" fill="#fff"/><rect x="1241" y="288" width="1" height="37" fill="#000"/><rect x="1239" y="299" width="5" height="18" fill="#000"/><rect x="1249" y="315" width="1" height="25" fill="#000"/><rect x="1247" y="316" width="5" height="24" fill="#000"/><rect x="1257" y="334" width="1" height="45" fill="#000"/><rect x="1255" y="338" width="5" height="29" fill="#000"/><rect x="1265" y="358" width="1" height="31" fill="#000"/><rect x="1263" y="364" width="5" height="23" fill="#000"/><rect x="1273" y="388" width="1" height="4" fill="#000"/><rect x="1271" y="388" width="5" height="2" fill="#000"/><rect x="1281" y="347" width="1" height="45" fill="#000"/><rect x="1279" y="350" width="5" height="39" fill="#000"/><rect x="1280" y="351" width="3" height="37" fill="#fff"/><rect x="1289" y="341" width="1" height="32" fill="#000"/><rect x="1287" y="350" width="5" height="9" fill="#000"/><rect x="1297" y="349" width="1" height="23" fill="#000"/><rect x="1295" y="357" width="5" height="11" fill="#000"/><rect x="1305" y="349" width="1" height="20" fill="#000"/><rect x="1303" y="360" width="5" height="7" fill="#000"/><rect x="1304" y="361" width="3" height="5" fill="#fff"/><rect x="1313" y="357" width="1" height="30" fill="#000"/><rect x="1311" y="361" width="5" height="20" fill="#000"/><rect x="1321" y="378" width="1" height="5" fill="#000"/><rect x="1319" y="378" width="5" height="3" fill="#000"/><rect x="1320" y="379" width="3" height="1" fill="#fff"/><rect x="1329" y="370" width="1" height="19" fill="#000"/><rect x="1327" y="376" width="5" height="3" fill="#000"/><rect x="1328" y="377" width="3" height="1" fill="#fff"/><rect x="1337" y="341" width="1" height="46" fill="#000"/><rect x="1335" y="344" width="5" height="33" fill="#000"/><rect x="1336" y="345" width="3" height="31" fill="#fff"/><rect x="1345" y="336" width="1" height="30" fill="#000"/><rect x="1343" y="343" width="5" height="2" fill="#000"/><rect x="1353" y="325" width="1" height="23" fill="#000"/><rect x="1351" y="342" width="5" height="2" fill="#000"/><rect x="1361" y="336" width="1" height="8" fill="#000"/><rect x="1359" y="338" width="5" height="4" fill="#000"/><rect x="1360" y="339" width="3" height="2" fill="#fff"/><rect x="1369" y="335" width="1" height="7" fill="#000"/><rect x="1367" y="337" width="5" height="2" fill="#000"/><rect x="1377" y="329" width="1" height="12" fill="#000"/><rect x="1375" y="336" width="5" height="3" fill="#000"/><rect x="1385" y="309" width="1" height="30" fill="#000"/><rect x="1383" y="320" width="5" height="19" fill="#000"/><rect x="1384" y="321" width="3" height="17" fill="#fff"/><rect x="1393" y="309" width="1" height="21" fill="#000"/><rect x="1391" y="312" width="5" height="9" fill="#000"/><rect x="1392" y="313" width="3" height="7" fill="#fff"/><rect x="1401" y="298" width="1" height="21" fill="#000"/><rect x="1399" y="312" width="5" height="3" fill="#000"/><rect x="1409" y="314" width="1" height="22" fill="#000"/><rect x="1407" y="314" width="5" height="5" fill="#000"/><rect x="1417" y="316" width="1" height="5" fill="#000"/><rect x="1415" y="317" width="5" height="3" fill="#000"/><rect x="1425" y="307" width="1" height="20" fill="#000"/><rect x="1423" y="318" width="5" height="8" fill="#000"/><rect x="1433" y="323" width="1" height="19" fill="#000"/><rect x="1431" y="324" width="5" height="3" fill="#000"/><rect x="1432" y="325" width="3" height="1" fill="#fff"/></g>
<line x1="1332" y1="386" x2="1391.4239373229655" y2="306.31790222602365" stroke="#ff0000" stroke-width="3.6"/>
<polygon points="1398,297.5 1395.4,309.3 1387.4,303.3" fill="#ff0000"/>
<line x1="1398" y1="297.5" x2="1424.8758673789491" y2="329.11866750464594" stroke="#ff0000" stroke-width="3.6"/>
<polygon points="1432,337.5 1421.1,332.4 1428.7,325.9" fill="#ff0000"/>
<rect x="1299" y="341" width="184" height="7" fill="#00ff00"/>
<text x="1523" y="348" font-size="21" fill="#00ff00" textLength="111" lengthAdjust="spacingAndGlyphs" font-family="Liberation Sans, sans-serif">多空转折点</text>
<rect x="0" y="25" width="1685" height="1" fill="#000"/>
<rect x="0" y="578" width="1685" height="1" fill="#000"/>
<rect x="0" y="580" width="1685" height="1" fill="#000"/>
<rect x="0" y="750" width="1685" height="1" fill="#000"/>
<rect x="0" y="752" width="1685" height="1" fill="#000"/>
<rect x="0" y="926" width="1685" height="1" fill="#000"/>
<rect x="1684" y="25" width="1" height="902" fill="#000"/>
<polygon points="1441,26 1450,26 1445.5,31" fill="#c0c0c0"/>
<rect x="1685" y="47" width="3" height="1" fill="#000"/>
<text x="1690" y="51" font-size="11" fill="#000" text-anchor="start" font-weight="normal" textLength="32" lengthAdjust="spacingAndGlyphs" >147.030</text>
<rect x="1685" y="80" width="3" height="1" fill="#000"/>
<text x="1690" y="84" font-size="11" fill="#000" text-anchor="start" font-weight="normal" textLength="32" lengthAdjust="spacingAndGlyphs" >145.550</text>
<rect x="1685" y="113" width="3" height="1" fill="#000"/>
<text x="1690" y="117" font-size="11" fill="#000" text-anchor="start" font-weight="normal" textLength="32" lengthAdjust="spacingAndGlyphs" >144.110</text>
<rect x="1685" y="146" width="3" height="1" fill="#000"/>
<text x="1690" y="150" font-size="11" fill="#000" text-anchor="start" font-weight="normal" textLength="32" lengthAdjust="spacingAndGlyphs" >142.630</text>
<rect x="1685" y="179" width="3" height="1" fill="#000"/>
<text x="1690" y="183" font-size="11" fill="#000" text-anchor="start" font-weight="normal" textLength="32" lengthAdjust="spacingAndGlyphs" >141.150</text>
<rect x="1685" y="212" width="3" height="1" fill="#000"/>
<text x="1690" y="216" font-size="11" fill="#000" text-anchor="start" font-weight="normal" textLength="32" lengthAdjust="spacingAndGlyphs" >139.710</text>
<rect x="1685" y="245" width="3" height="1" fill="#000"/>
<text x="1690" y="249" font-size="11" fill="#000" text-anchor="start" font-weight="normal" textLength="32" lengthAdjust="spacingAndGlyphs" >138.230</text>
<rect x="1685" y="279" width="3" height="1" fill="#000"/>
<text x="1690" y="283" font-size="11" fill="#000" text-anchor="start" font-weight="normal" textLength="32" lengthAdjust="spacingAndGlyphs" >136.750</text>
<rect x="1685" y="312" width="3" height="1" fill="#000"/>
<text x="1690" y="316" font-size="11" fill="#000" text-anchor="start" font-weight="normal" textLength="32" lengthAdjust="spacingAndGlyphs" >135.310</text>
<rect x="1685" y="345" width="3" height="1" fill="#000"/>
<rect x="1685" y="378" width="3" height="1" fill="#000"/>
<text x="1690" y="382" font-size="11" fill="#000" text-anchor="start" font-weight="normal" textLength="32" lengthAdjust="spacingAndGlyphs" >132.390</text>
<rect x="1685" y="411" width="3" height="1" fill="#000"/>
<text x="1690" y="415" font-size="11" fill="#000" text-anchor="start" font-weight="normal" textLength="32" lengthAdjust="spacingAndGlyphs" >130.910</text>
<rect x="1685" y="444" width="3" height="1" fill="#000"/>
<text x="1690" y="448" font-size="11" fill="#000" text-anchor="start" font-weight="normal" textLength="32" lengthAdjust="spacingAndGlyphs" >129.430</text>
<rect x="1685" y="477" width="3" height="1" fill="#000"/>
<text x="1690" y="481" font-size="11" fill="#000" text-anchor="start" font-weight="normal" textLength="32" lengthAdjust="spacingAndGlyphs" >127.990</text>
<rect x="1685" y="510" width="3" height="1" fill="#000"/>
<text x="1690" y="514" font-size="11" fill="#000" text-anchor="start" font-weight="normal" textLength="32" lengthAdjust="spacingAndGlyphs" >126.510</text>
<rect x="1685" y="543" width="3" height="1" fill="#000"/>
<text x="1690" y="547" font-size="11" fill="#000" text-anchor="start" font-weight="normal" textLength="32" lengthAdjust="spacingAndGlyphs" >125.030</text>
<rect x="1685" y="575" width="3" height="1" fill="#000"/>
<text x="1690" y="579" font-size="11" fill="#000" text-anchor="start" font-weight="normal" textLength="32" lengthAdjust="spacingAndGlyphs" >123.590</text>
<rect x="1686" y="265" width="41" height="11" fill="#ff0000"/>
<text x="1689" y="275" font-size="11" fill="#fff" text-anchor="start" font-weight="normal" textLength="34" lengthAdjust="spacingAndGlyphs" >137.081</text>
<rect x="1686" y="288" width="41" height="11" fill="#ff0000"/>
<text x="1689" y="298" font-size="11" fill="#fff" text-anchor="start" font-weight="normal" textLength="34" lengthAdjust="spacingAndGlyphs" >136.057</text>
<rect x="1686" y="317" width="41" height="11" fill="#000000"/>
<text x="1689" y="327" font-size="11" fill="#fff" text-anchor="start" font-weight="normal" textLength="34" lengthAdjust="spacingAndGlyphs" >134.783</text>
<rect x="1686" y="338" width="41" height="11" fill="#32cd32"/>
<text x="1689" y="348" font-size="11" fill="#fff" text-anchor="start" font-weight="normal" textLength="34" lengthAdjust="spacingAndGlyphs" >133.822</text>
<rect x="1686" y="361" width="41" height="11" fill="#0000ff"/>
<text x="1689" y="371" font-size="11" fill="#fff" text-anchor="start" font-weight="normal" textLength="34" lengthAdjust="spacingAndGlyphs" >132.798</text>
<rect x="1686" y="385" width="41" height="11" fill="#0000ff"/>
<text x="1689" y="395" font-size="11" fill="#fff" text-anchor="start" font-weight="normal" textLength="34" lengthAdjust="spacingAndGlyphs" >131.774</text>
<polygon points="0,33 3,37 0,37" fill="#000"/>
<text x="8" y="37" font-size="11" fill="#000" text-anchor="start" font-weight="normal" textLength="209" lengthAdjust="spacingAndGlyphs" >GBPJPY-,Daily  134.644 134.811 133.969 134.783</text>
<g shape-rendering="crispEdges"><rect x="1" y="600" width="1" height="39" fill="#c0c0c0"/><rect x="9" y="605" width="1" height="34" fill="#c0c0c0"/><rect x="17" y="611" width="1" height="28" fill="#c0c0c0"/><rect x="25" y="616" width="1" height="23" fill="#c0c0c0"/><rect x="33" y="620" width="1" height="19" fill="#c0c0c0"/><rect x="41" y="626" width="1" height="13" fill="#c0c0c0"/><rect x="49" y="631" width="1" height="8" fill="#c0c0c0"/><rect x="57" y="634" width="1" height="5" fill="#c0c0c0"/><rect x="65" y="634" width="1" height="5" fill="#c0c0c0"/><rect x="73" y="633" width="1" height="6" fill="#c0c0c0"/><rect x="81" y="632" width="1" height="7" fill="#c0c0c0"/><rect x="89" y="633" width="1" height="6" fill="#c0c0c0"/><rect x="97" y="631" width="1" height="8" fill="#c0c0c0"/><rect x="105" y="628" width="1" height="11" fill="#c0c0c0"/><rect x="113" y="630" width="1" height="9" fill="#c0c0c0"/><rect x="121" y="635" width="1" height="4" fill="#c0c0c0"/><rect x="129" y="638" width="1" height="2" fill="#c0c0c0"/><rect x="137" y="638" width="1" height="2" fill="#c0c0c0"/><rect x="145" y="638" width="1" height="4" fill="#c0c0c0"/><rect x="153" y="638" width="1" height="3" fill="#c0c0c0"/><rect x="161" y="638" width="1" height="1" fill="#c0c0c0"/><rect x="169" y="637" width="1" height="2" fill="#c0c0c0"/><rect x="177" y="637" width="1" height="2" fill="#c0c0c0"/><rect x="185" y="636" width="1" height="3" fill="#c0c0c0"/><rect x="193" y="636" width="1" height="3" fill="#c0c0c0"/><rect x="201" y="635" width="1" height="4" fill="#c0c0c0"/><rect x="209" y="632" width="1" height="7" fill="#c0c0c0"/><rect x="217" y="632" width="1" height="7" fill="#c0c0c0"/><rect x="225" y="632" width="1" height="7" fill="#c0c0c0"/><rect x="233" y="632" width="1" height="7" fill="#c0c0c0"/><rect x="241" y="632" width="1" height="7" fill="#c0c0c0"/><rect x="249" y="630" width="1" height="9" fill="#c0c0c0"/><rect x="257" y="630" width="1" height="9" fill="#c0c0c0"/><rect x="265" y="632" width="1" height="7" fill="#c0c0c0"/><rect x="273" y="635" width="1" height="4" fill="#c0c0c0"/><rect x="281" y="637" width="1" height="2" fill="#c0c0c0"/><rect x="289" y="638" width="1" height="3" fill="#c0c0c0"/><rect x="297" y="638" width="1" height="5" fill="#c0c0c0"/><rect x="305" y="638" width="1" height="5" fill="#c0c0c0"/><rect x="313" y="638" width="1" height="4" fill="#c0c0c0"/><rect x="321" y="638" width="1" height="4" fill="#c0c0c0"/><rect x="329" y="638" width="1" height="7" fill="#c0c0c0"/><rect x="337" y="638" width="1" height="7" fill="#c0c0c0"/><rect x="345" y="638" width="1" height="6" fill="#c0c0c0"/><rect x="353" y="638" width="1" height="6" fill="#c0c0c0"/><rect x="361" y="638" width="1" height="9" fill="#c0c0c0"/><rect x="369" y="638" width="1" height="10" fill="#c0c0c0"/><rect x="377" y="638" width="1" height="11" fill="#c0c0c0"/><rect x="385" y="638" width="1" height="10" fill="#c0c0c0"/><rect x="393" y="638" width="1" height="8" fill="#c0c0c0"/><rect x="401" y="638" width="1" height="6" fill="#c0c0c0"/><rect x="409" y="638" width="1" height="4" fill="#c0c0c0"/><rect x="417" y="638" width="1" height="1" fill="#c0c0c0"/><rect x="425" y="638" width="1" height="1" fill="#c0c0c0"/><rect x="433" y="637" width="1" height="2" fill="#c0c0c0"/><rect x="441" y="635" width="1" height="4" fill="#c0c0c0"/><rect x="449" y="632" width="1" height="7" fill="#c0c0c0"/><rect x="457" y="628" width="1" height="11" fill="#c0c0c0"/><rect x="465" y="626" width="1" height="13" fill="#c0c0c0"/><rect x="473" y="628" width="1" height="11" fill="#c0c0c0"/><rect x="481" y="628" width="1" height="11" fill="#c0c0c0"/><rect x="489" y="632" width="1" height="7" fill="#c0c0c0"/><rect x="497" y="637" width="1" height="2" fill="#c0c0c0"/><rect x="505" y="638" width="1" height="12" fill="#c0c0c0"/><rect x="513" y="638" width="1" height="21" fill="#c0c0c0"/><rect x="521" y="638" width="1" height="27" fill="#c0c0c0"/><rect x="529" y="638" width="1" height="34" fill="#c0c0c0"/><rect x="537" y="638" width="1" height="36" fill="#c0c0c0"/><rect x="545" y="638" width="1" height="40" fill="#c0c0c0"/><rect x="553" y="638" width="1" height="44" fill="#c0c0c0"/><rect x="561" y="638" width="1" height="48" fill="#c0c0c0"/><rect x="569" y="638" width="1" height="55" fill="#c0c0c0"/><rect x="577" y="638" width="1" height="57" fill="#c0c0c0"/><rect x="585" y="638" width="1" height="62" fill="#c0c0c0"/><rect x="593" y="638" width="1" height="71" fill="#c0c0c0"/><rect x="601" y="638" width="1" height="74" fill="#c0c0c0"/><rect x="609" y="638" width="1" height="77" fill="#c0c0c0"/><rect x="617" y="638" width="1" height="84" fill="#c0c0c0"/><rect x="625" y="638" width="1" height="88" fill="#c0c0c0"/><rect x="633" y="638" width="1" height="101" fill="#c0c0c0"/><rect x="641" y="638" width="1" height="105" fill="#c0c0c0"/><rect x="649" y="638" width="1" height="105" fill="#c0c0c0"/><rect x="657" y="638" width="1" height="104" fill="#c0c0c0"/><rect x="665" y="638" width="1" height="102" fill="#c0c0c0"/><rect x="673" y="638" width="1" height="94" fill="#c0c0c0"/><rect x="681" y="638" width="1" height="85" fill="#c0c0c0"/><rect x="689" y="638" width="1" height="73" fill="#c0c0c0"/><rect x="697" y="638" width="1" height="60" fill="#c0c0c0"/><rect x="705" y="638" width="1" height="50" fill="#c0c0c0"/><rect x="713" y="638" width="1" height="43" fill="#c0c0c0"/><rect x="721" y="638" width="1" height="37" fill="#c0c0c0"/><rect x="729" y="638" width="1" height="33" fill="#c0c0c0"/><rect x="737" y="638" width="1" height="28" fill="#c0c0c0"/><rect x="745" y="638" width="1" height="25" fill="#c0c0c0"/><rect x="753" y="638" width="1" height="23" fill="#c0c0c0"/><rect x="761" y="638" width="1" height="20" fill="#c0c0c0"/><rect x="769" y="638" width="1" height="15" fill="#c0c0c0"/><rect x="777" y="638" width="1" height="10" fill="#c0c0c0"/><rect x="785" y="638" width="1" height="5" fill="#c0c0c0"/><rect x="793" y="638" width="1" height="2" fill="#c0c0c0"/><rect x="801" y="636" width="1" height="3" fill="#c0c0c0"/><rect x="809" y="634" width="1" height="5" fill="#c0c0c0"/><rect x="817" y="633" width="1" height="6" fill="#c0c0c0"/><rect x="825" y="632" width="1" height="7" fill="#c0c0c0"/><rect x="833" y="632" width="1" height="7" fill="#c0c0c0"/><rect x="841" y="632" width="1" height="7" fill="#c0c0c0"/><rect x="849" y="634" width="1" height="5" fill="#c0c0c0"/><rect x="857" y="638" width="1" height="1" fill="#c0c0c0"/><rect x="865" y="638" width="1" height="4" fill="#c0c0c0"/><rect x="873" y="638" width="1" height="6" fill="#c0c0c0"/><rect x="881" y="638" width="1" height="8" fill="#c0c0c0"/><rect x="889" y="638" width="1" height="9" fill="#c0c0c0"/><rect x="897" y="638" width="1" height="9" fill="#c0c0c0"/><rect x="905" y="638" width="1" height="10" fill="#c0c0c0"/><rect x="913" y="638" width="1" height="10" fill="#c0c0c0"/><rect x="921" y="638" width="1" height="5" fill="#c0c0c0"/><rect x="929" y="638" width="1" height="5" fill="#c0c0c0"/><rect x="937" y="638" width="1" height="7" fill="#c0c0c0"/><rect x="945" y="638" width="1" height="8" fill="#c0c0c0"/><rect x="953" y="638" width="1" height="9" fill="#c0c0c0"/><rect x="961" y="638" width="1" height="14" fill="#c0c0c0"/><rect x="969" y="638" width="1" height="16" fill="#c0c0c0"/><rect x="977" y="638" width="1" height="16" fill="#c0c0c0"/><rect x="985" y="638" width="1" height="14" fill="#c0c0c0"/><rect x="993" y="638" width="1" height="13" fill="#c0c0c0"/><rect x="1001" y="638" width="1" height="16" fill="#c0c0c0"/><rect x="1009" y="638" width="1" height="18" fill="#c0c0c0"/><rect x="1017" y="638" width="1" height="19" fill="#c0c0c0"/><rect x="1025" y="638" width="1" height="23" fill="#c0c0c0"/><rect x="1033" y="638" width="1" height="26" fill="#c0c0c0"/><rect x="1041" y="638" width="1" height="25" fill="#c0c0c0"/><rect x="1049" y="638" width="1" height="22" fill="#c0c0c0"/><rect x="1057" y="638" width="1" height="20" fill="#c0c0c0"/><rect x="1065" y="638" width="1" height="18" fill="#c0c0c0"/><rect x="1073" y="638" width="1" height="18" fill="#c0c0c0"/><rect x="1081" y="638" width="1" height="18" fill="#c0c0c0"/><rect x="1089" y="638" width="1" height="16" fill="#c0c0c0"/><rect x="1097" y="638" width="1" height="12" fill="#c0c0c0"/><rect x="1105" y="638" width="1" height="10" fill="#c0c0c0"/><rect x="1113" y="638" width="1" height="7" fill="#c0c0c0"/><rect x="1121" y="638" width="1" height="4" fill="#c0c0c0"/><rect x="1129" y="638" width="1" height="2" fill="#c0c0c0"/><rect x="1137" y="634" width="1" height="5" fill="#c0c0c0"/><rect x="1145" y="623" width="1" height="16" fill="#c0c0c0"/><rect x="1153" y="615" width="1" height="24" fill="#c0c0c0"/><rect x="1161" y="608" width="1" height="31" fill="#c0c0c0"/><rect x="1169" y="599" width="1" height="40" fill="#c0c0c0"/><rect x="1177" y="592" width="1" height="47" fill="#c0c0c0"/><rect x="1185" y="590" width="1" height="49" fill="#c0c0c0"/><rect x="1193" y="591" width="1" height="48" fill="#c0c0c0"/><rect x="1201" y="595" width="1" height="44" fill="#c0c0c0"/><rect x="1209" y="603" width="1" height="36" fill="#c0c0c0"/><rect x="1217" y="609" width="1" height="30" fill="#c0c0c0"/><rect x="1225" y="615" width="1" height="24" fill="#c0c0c0"/><rect x="1233" y="616" width="1" height="23" fill="#c0c0c0"/><rect x="1241" y="618" width="1" height="21" fill="#c0c0c0"/><rect x="1249" y="623" width="1" height="16" fill="#c0c0c0"/><rect x="1257" y="630" width="1" height="9" fill="#c0c0c0"/><rect x="1265" y="637" width="1" height="2" fill="#c0c0c0"/><rect x="1273" y="638" width="1" height="6" fill="#c0c0c0"/><rect x="1281" y="638" width="1" height="7" fill="#c0c0c0"/><rect x="1289" y="638" width="1" height="8" fill="#c0c0c0"/><rect x="1297" y="638" width="1" height="10" fill="#c0c0c0"/><rect x="1305" y="638" width="1" height="11" fill="#c0c0c0"/><rect x="1313" y="638" width="1" height="13" fill="#c0c0c0"/><rect x="1321" y="638" width="1" height="15" fill="#c0c0c0"/><rect x="1329" y="638" width="1" height="16" fill="#c0c0c0"/><rect x="1337" y="638" width="1" height="13" fill="#c0c0c0"/><rect x="1345" y="638" width="1" height="11" fill="#c0c0c0"/><rect x="1353" y="638" width="1" height="9" fill="#c0c0c0"/><rect x="1361" y="638" width="1" height="6" fill="#c0c0c0"/><rect x="1369" y="638" width="1" height="5" fill="#c0c0c0"/><rect x="1377" y="638" width="1" height="3" fill="#c0c0c0"/><rect x="1385" y="637" width="1" height="2" fill="#c0c0c0"/><rect x="1393" y="634" width="1" height="5" fill="#c0c0c0"/><rect x="1401" y="632" width="1" height="7" fill="#c0c0c0"/><rect x="1409" y="631" width="1" height="8" fill="#c0c0c0"/><rect x="1417" y="630" width="1" height="9" fill="#c0c0c0"/><rect x="1425" y="630" width="1" height="9" fill="#c0c0c0"/><rect x="1433" y="630" width="1" height="9" fill="#c0c0c0"/></g>
<polyline points="1.5,603.4 9.5,602.8 17.5,601.9 25.5,601.9 33.5,603.4 41.5,606.4 49.5,610.0 57.5,613.6 65.5,619.5 73.5,623.2 81.5,626.3 89.5,628.8 97.5,630.4 105.5,631.3 113.5,631.9 121.5,632.4 129.5,633.0 137.5,633.4 145.5,634.3 153.5,635.1 161.5,635.7 169.5,636.5 177.5,637.4 185.5,638.1 193.5,638.1 201.5,637.6 209.5,636.9 217.5,635.9 225.5,635.1 233.5,634.4 241.5,633.8 249.5,633.0 257.5,632.3 265.5,631.8 273.5,631.8 281.5,632.4 289.5,633.3 297.5,634.4 305.5,635.5 313.5,636.5 321.5,637.7 329.5,639.3 337.5,640.7 345.5,641.5 353.5,642.2 361.5,642.8 369.5,643.5 377.5,644.1 385.5,644.7 393.5,645.2 401.5,645.0 409.5,644.7 417.5,644.2 425.5,643.6 433.5,642.7 441.5,641.2 449.5,639.5 457.5,637.4 465.5,635.3 473.5,633.6 481.5,632.2 489.5,631.5 497.5,631.4 505.5,632.7 513.5,635.3 521.5,638.9 529.5,643.6 537.5,648.9 545.5,654.3 553.5,660.2 561.5,666.1 569.5,672.2 577.5,677.3 585.5,681.8 593.5,686.7 601.5,691.1 609.5,695.7 617.5,700.6 625.5,705.5 633.5,711.3 641.5,716.9 649.5,722.1 657.5,726.8 665.5,730.3 673.5,732.5 681.5,733.4 689.5,732.3 697.5,729.1 705.5,723.5 713.5,716.7 721.5,709.1 729.5,701.2 737.5,692.9 745.5,685.3 753.5,678.4 761.5,672.4 769.5,667.5 777.5,662.9 785.5,658.8 793.5,654.9 801.5,651.1 809.5,647.7 817.5,644.4 825.5,641.2 833.5,638.5 841.5,636.3 849.5,634.9 857.5,634.4 865.5,634.7 873.5,635.4 881.5,636.6 889.5,638.1 897.5,639.6 905.5,641.3 913.5,642.9 921.5,643.9 929.5,644.3 937.5,644.6 945.5,644.8 953.5,645.0 961.5,645.6 969.5,646.4 977.5,647.0 985.5,647.5 993.5,648.3 1001.5,649.4 1009.5,650.7 1017.5,652.0 1025.5,653.5 1033.5,654.9 1041.5,655.9 1049.5,656.6 1057.5,657.2 1065.5,657.8 1073.5,658.1 1081.5,658.0 1089.5,657.7 1097.5,656.6 1105.5,654.8 1113.5,652.8 1121.5,650.8 1129.5,648.8 1137.5,646.4 1145.5,642.9 1153.5,638.5 1161.5,633.4 1169.5,627.9 1177.5,621.7 1185.5,615.7 1193.5,610.1 1201.5,605.3 1209.5,601.8 1217.5,600.3 1225.5,600.2 1233.5,601.1 1241.5,603.2 1249.5,606.7 1257.5,611.1 1265.5,616.2 1273.5,621.5 1281.5,626.1 1289.5,630.0 1297.5,633.6 1305.5,637.2 1313.5,640.8 1321.5,644.0 1329.5,646.6 1337.5,648.0 1345.5,648.5 1353.5,648.7 1361.5,648.5 1369.5,647.9 1377.5,647.1 1385.5,645.7 1393.5,643.7 1401.5,641.3 1409.5,639.1 1417.5,637.1 1425.5,635.4 1433.5,633.9" fill="none" stroke="#ff0000" stroke-width="1" stroke-dasharray="3 3" shape-rendering="crispEdges"/>
<text x="-2.5" y="593" font-size="11" fill="#000" text-anchor="start" font-weight="normal" textLength="127.5" lengthAdjust="spacingAndGlyphs" >MACD(12,26,9) 0.2924 0.1598</text>
<rect x="1685" y="582" width="3" height="1" fill="#000"/>
<text x="1689" y="591" font-size="11" fill="#000" text-anchor="start" font-weight="normal" textLength="23" lengthAdjust="spacingAndGlyphs" >1.894</text>
<rect x="1685" y="638" width="3" height="1" fill="#000"/>
<text x="1689" y="642" font-size="11" fill="#000" text-anchor="start" font-weight="normal" textLength="17" lengthAdjust="spacingAndGlyphs" >0.00</text>
<rect x="1685" y="749" width="2" height="1" fill="#000"/>
<text x="1688" y="747" font-size="11" fill="#000" text-anchor="start" font-weight="normal" textLength="30" lengthAdjust="spacingAndGlyphs" >-3.7183</text>
<line x1="0" y1="788.5" x2="1684" y2="788.5" stroke="#c0c0c0" stroke-width="1" stroke-dasharray="3 3"/>
<line x1="0" y1="839.5" x2="1684" y2="839.5" stroke="#c0c0c0" stroke-width="1" stroke-dasharray="3 3"/>
<line x1="0" y1="900.5" x2="1684" y2="900.5" stroke="#c0c0c0" stroke-width="1" stroke-dasharray="3 3"/>
<polyline points="1.5,828.4 9.5,832.7 17.5,841.9 25.5,840.7 33.5,841.6 41.5,849.9 49.5,851.6 57.5,846.1 65.5,838.5 73.5,830.5 81.5,830.5 89.5,837.2 97.5,824.8 105.5,824.0 113.5,840.2 121.5,852.8 129.5,853.4 137.5,837.4 145.5,847.4 153.5,836.2 161.5,834.8 169.5,835.4 177.5,836.6 185.5,836.9 193.5,835.2 201.5,832.7 209.5,824.9 217.5,834.0 225.5,834.4 233.5,835.0 241.5,833.2 249.5,823.8 257.5,831.1 265.5,841.9 273.5,850.8 281.5,848.6 289.5,850.3 297.5,852.8 305.5,844.1 313.5,837.1 321.5,838.8 329.5,858.0 337.5,840.7 345.5,839.6 353.5,845.0 361.5,852.9 369.5,853.8 377.5,847.8 385.5,841.1 393.5,840.0 401.5,830.9 409.5,833.0 417.5,829.7 425.5,836.3 433.5,836.3 441.5,825.7 449.5,820.1 457.5,815.1 465.5,820.1 473.5,837.0 481.5,835.7 489.5,846.9 497.5,858.8 505.5,879.2 513.5,879.5 521.5,871.0 529.5,877.7 537.5,862.5 545.5,868.5 553.5,872.0 561.5,875.6 569.5,881.4 577.5,872.8 585.5,879.4 593.5,887.2 601.5,873.5 609.5,877.3 617.5,883.0 625.5,883.4 633.5,893.8 641.5,877.6 649.5,872.7 657.5,874.0 665.5,871.9 673.5,854.8 681.5,852.9 689.5,843.0 697.5,835.4 705.5,839.5 713.5,840.1 721.5,841.8 729.5,844.9 737.5,838.4 745.5,844.5 753.5,844.5 761.5,840.0 769.5,836.1 777.5,830.3 785.5,830.4 793.5,830.5 801.5,832.4 809.5,828.5 817.5,833.9 825.5,833.5 833.5,837.5 841.5,836.4 849.5,842.0 857.5,854.8 865.5,850.8 873.5,849.6 881.5,852.3 889.5,848.7 897.5,844.8 905.5,850.9 913.5,848.0 921.5,826.0 929.5,842.3 937.5,846.5 945.5,847.6 953.5,850.5 961.5,862.7 969.5,854.5 977.5,846.6 985.5,843.1 993.5,844.1 1001.5,855.8 1009.5,858.8 1017.5,853.6 1025.5,863.6 1033.5,866.5 1041.5,850.2 1049.5,840.3 1057.5,844.3 1065.5,845.1 1073.5,850.0 1081.5,847.1 1089.5,845.1 1097.5,833.7 1105.5,837.4 1113.5,833.6 1121.5,831.2 1129.5,830.5 1137.5,818.4 1145.5,802.5 1153.5,801.8 1161.5,799.3 1169.5,793.7 1177.5,791.5 1185.5,808.5 1193.5,819.6 1201.5,828.8 1209.5,842.4 1217.5,842.7 1225.5,842.7 1233.5,830.5 1241.5,836.3 1249.5,844.5 1257.5,852.4 1265.5,857.9 1273.5,858.8 1281.5,843.7 1289.5,846.2 1297.5,849.3 1305.5,846.5 1313.5,852.8 1321.5,852.3 1329.5,851.3 1337.5,837.7 1345.5,837.7 1353.5,837.2 1361.5,835.2 1369.5,835.2 1377.5,834.8 1385.5,826.7 1393.5,822.8 1401.5,824.6 1409.5,827.3 1417.5,827.7 1425.5,832.3 1433.5,831.2" fill="none" stroke="#1e90ff" stroke-width="1" shape-rendering="crispEdges"/>
<text x="-2" y="765" font-size="11" fill="#000" text-anchor="start" font-weight="normal" textLength="67" lengthAdjust="spacingAndGlyphs" >RSI(14) 54.9946</text>
<rect x="1685" y="754" width="2" height="1" fill="#000"/>
<text x="1688" y="761" font-size="11" fill="#000" text-anchor="start" font-weight="normal" textLength="18" lengthAdjust="spacingAndGlyphs" >100</text>
<text x="1688" y="792" font-size="11" fill="#000" text-anchor="start" font-weight="normal" textLength="12" lengthAdjust="spacingAndGlyphs" >80</text>
<text x="1688" y="844" font-size="11" fill="#000" text-anchor="start" font-weight="normal" textLength="12" lengthAdjust="spacingAndGlyphs" >50</text>
<text x="1688" y="904" font-size="11" fill="#000" text-anchor="start" font-weight="normal" textLength="12" lengthAdjust="spacingAndGlyphs" >15</text>
<rect x="1685" y="925" width="2" height="1" fill="#000"/>
<text x="1688" y="923" font-size="11" fill="#000" text-anchor="start" font-weight="normal" textLength="6" lengthAdjust="spacingAndGlyphs" >0</text>
<text x="-8" y="939" font-size="11" fill="#000" text-anchor="start" font-weight="normal" textLength="51.0" lengthAdjust="spacingAndGlyphs" >16 Dec 2019</text>
<rect x="57" y="927" width="1" height="3" fill="#000"/>
<text x="56" y="939" font-size="11" fill="#000" text-anchor="start" font-weight="normal" textLength="51.0" lengthAdjust="spacingAndGlyphs" >25 Dec 2019</text>
<rect x="121" y="927" width="1" height="3" fill="#000"/>
<text x="120" y="939" font-size="11" fill="#000" text-anchor="start" font-weight="normal" textLength="44.5" lengthAdjust="spacingAndGlyphs" >3 Jan 2020</text>
<rect x="185" y="927" width="1" height="3" fill="#000"/>
<text x="184" y="939" font-size="11" fill="#000" text-anchor="start" font-weight="normal" textLength="49.5" lengthAdjust="spacingAndGlyphs" >13 Jan 2020</text>
<rect x="249" y="927" width="1" height="3" fill="#000"/>
<text x="248" y="939" font-size="11" fill="#000" text-anchor="start" font-weight="normal" textLength="49.5" lengthAdjust="spacingAndGlyphs" >22 Jan 2020</text>
<rect x="313" y="927" width="1" height="3" fill="#000"/>
<text x="312" y="939" font-size="11" fill="#000" text-anchor="start" font-weight="normal" textLength="49.5" lengthAdjust="spacingAndGlyphs" >31 Jan 2020</text>
<rect x="377" y="927" width="1" height="3" fill="#000"/>
<text x="376" y="939" font-size="11" fill="#000" text-anchor="start" font-weight="normal" textLength="50.5" lengthAdjust="spacingAndGlyphs" >10 Feb 2020</text>
<rect x="441" y="927" width="1" height="3" fill="#000"/>
<text x="440" y="939" font-size="11" fill="#000" text-anchor="start" font-weight="normal" textLength="50.5" lengthAdjust="spacingAndGlyphs" >19 Feb 2020</text>
<rect x="505" y="927" width="1" height="3" fill="#000"/>
<text x="504" y="939" font-size="11" fill="#000" text-anchor="start" font-weight="normal" textLength="50.5" lengthAdjust="spacingAndGlyphs" >28 Feb 2020</text>
<rect x="569" y="927" width="1" height="3" fill="#000"/>
<text x="568" y="939" font-size="11" fill="#000" text-anchor="start" font-weight="normal" textLength="45.5" lengthAdjust="spacingAndGlyphs" >9 Mar 2020</text>
<rect x="633" y="927" width="1" height="3" fill="#000"/>
<text x="632" y="939" font-size="11" fill="#000" text-anchor="start" font-weight="normal" textLength="50.5" lengthAdjust="spacingAndGlyphs" >18 Mar 2020</text>
<rect x="697" y="927" width="1" height="3" fill="#000"/>
<text x="696" y="939" font-size="11" fill="#000" text-anchor="start" font-weight="normal" textLength="50.5" lengthAdjust="spacingAndGlyphs" >27 Mar 2020</text>
<rect x="761" y="927" width="1" height="3" fill="#000"/>
<text x="760" y="939" font-size="11" fill="#000" text-anchor="start" font-weight="normal" textLength="43.5" lengthAdjust="spacingAndGlyphs" >6 Apr 2020</text>
<rect x="825" y="927" width="1" height="3" fill="#000"/>
<text x="824" y="939" font-size="11" fill="#000" text-anchor="start" font-weight="normal" textLength="48.5" lengthAdjust="spacingAndGlyphs" >16 Apr 2020</text>
<rect x="889" y="927" width="1" height="3" fill="#000"/>
<text x="888" y="939" font-size="11" fill="#000" text-anchor="start" font-weight="normal" textLength="48.5" lengthAdjust="spacingAndGlyphs" >26 Apr 2020</text>
<rect x="953" y="927" width="1" height="3" fill="#000"/>
<text x="952" y="939" font-size="11" fill="#000" text-anchor="start" font-weight="normal" textLength="47.0" lengthAdjust="spacingAndGlyphs" >5 May 2020</text>
<rect x="1017" y="927" width="1" height="3" fill="#000"/>
<text x="1016" y="939" font-size="11" fill="#000" text-anchor="start" font-weight="normal" textLength="52.0" lengthAdjust="spacingAndGlyphs" >14 May 2020</text>
<rect x="1081" y="927" width="1" height="3" fill="#000"/>
<text x="1080" y="939" font-size="11" fill="#000" text-anchor="start" font-weight="normal" textLength="52.0" lengthAdjust="spacingAndGlyphs" >24 May 2020</text>
<rect x="1145" y="927" width="1" height="3" fill="#000"/>
<text x="1144" y="939" font-size="11" fill="#000" text-anchor="start" font-weight="normal" textLength="44.5" lengthAdjust="spacingAndGlyphs" >2 Jun 2020</text>
<rect x="1209" y="927" width="1" height="3" fill="#000"/>
<text x="1208" y="939" font-size="11" fill="#000" text-anchor="start" font-weight="normal" textLength="48.9" lengthAdjust="spacingAndGlyphs" >11 Jun 2020</text>
<rect x="1273" y="927" width="1" height="3" fill="#000"/>
<text x="1272" y="939" font-size="11" fill="#000" text-anchor="start" font-weight="normal" textLength="49.5" lengthAdjust="spacingAndGlyphs" >21 Jun 2020</text>
<rect x="1337" y="927" width="1" height="3" fill="#000"/>
<text x="1336" y="939" font-size="11" fill="#000" text-anchor="start" font-weight="normal" textLength="49.5" lengthAdjust="spacingAndGlyphs" >30 Jun 2020</text>
<rect x="1401" y="927" width="1" height="3" fill="#000"/>
<text x="1400" y="939" font-size="11" fill="#000" text-anchor="start" font-weight="normal" textLength="41.5" lengthAdjust="spacingAndGlyphs" >9 Jul 2020</text>

<defs>
<linearGradient id="gBtn" x1="0" y1="0" x2="0" y2="1"><stop offset="0" stop-color="#ff5050"/><stop offset="1" stop-color="#dc2d2d"/></linearGradient>
<linearGradient id="gPrice" x1="0" y1="0" x2="0" y2="1"><stop offset="0" stop-color="#e03030"/><stop offset="1" stop-color="#b00000"/></linearGradient>
<linearGradient id="gSpin" x1="0" y1="0" x2="0" y2="1"><stop offset="0" stop-color="#f0f0f0"/><stop offset="1" stop-color="#d0d0d0"/></linearGradient>
</defs>
<rect x="0" y="45" width="48" height="24" fill="#c00000"/>
<rect x="0" y="46" width="47" height="22" fill="url(#gBtn)"/>
<rect x="0" y="68" width="44" height="1" fill="#8c0000"/>
<rect x="163" y="45" width="52" height="24" fill="#c00000"/>
<rect x="164" y="46" width="50" height="22" fill="url(#gBtn)"/>
<rect x="167" y="68" width="44" height="1" fill="#8c0000"/>
<rect x="0" y="69" width="105" height="40" fill="#c00000"/>
<rect x="0" y="70" width="104" height="38" fill="url(#gPrice)"/>
<rect x="107" y="69" width="108" height="40" fill="#c00000"/>
<rect x="108" y="70" width="106" height="38" fill="url(#gPrice)"/>
<rect x="50.5" y="45.5" width="110" height="21" fill="#fff" stroke="#a8a8b0"/>
<rect x="52" y="47" width="19" height="19" fill="url(#gSpin)"/>
<rect x="71" y="46" width="1" height="20" fill="#a8a8b0"/>
<rect x="140" y="47" width="19" height="19" fill="url(#gSpin)"/>
<rect x="139" y="46" width="1" height="20" fill="#a8a8b0"/>
<polygon points="58,54 63,54 60.5,57" fill="#5060c0"/>
<polygon points="147,57 152,57 149.5,54" fill="#5060c0"/>

<text x="136" y="60" font-size="12" fill="#000" text-anchor="end" font-weight="normal" >1.00</text>
<text x="8" y="61" font-size="12" fill="#fff" text-anchor="start" font-weight="normal" textLength="26" lengthAdjust="spacingAndGlyphs" >SELL</text>
<text x="176" y="61" font-size="12" fill="#fff" text-anchor="start" font-weight="normal" textLength="24" lengthAdjust="spacingAndGlyphs" >BUY</text>
<text x="19" y="100" font-size="13" fill="#fff" text-anchor="start" font-weight="bold" textLength="21" lengthAdjust="spacingAndGlyphs" >134</text>
<text x="45" y="100" font-size="35.5" fill="#fff" text-anchor="start" font-weight="normal" textLength="33" lengthAdjust="spacingAndGlyphs" >78</text>
<text x="83" y="83.5" font-size="12" fill="#fff" text-anchor="start" font-weight="bold" textLength="7" lengthAdjust="spacingAndGlyphs" >3</text>
<text x="129" y="100" font-size="13" fill="#fff" text-anchor="start" font-weight="bold" textLength="21" lengthAdjust="spacingAndGlyphs" >134</text>
<text x="154.5" y="100" font-size="35.5" fill="#fff" text-anchor="start" font-weight="normal" textLength="33.5" lengthAdjust="spacingAndGlyphs" >82</text>
<text x="194" y="83.5" font-size="12" fill="#fff" text-anchor="start" font-weight="bold" textLength="7" lengthAdjust="spacingAndGlyphs" >6</text>
<rect x="0" y="0" width="1731" height="21" fill="#f0f0f0"/>
<rect x="0" y="21" width="1731" height="1" fill="#a0a0a0"/>
<rect x="0" y="22" width="1731" height="1" fill="#696969"/>
<rect x="45" y="0" width="1" height="19" fill="#a0a0a0"/>
<rect x="281" y="0" width="1" height="19" fill="#a0a0a0"/>
<rect x="319" y="0" width="1" height="19" fill="#a0a0a0"/>
<rect x="376" y="0" width="1" height="19" fill="#a0a0a0"/>
<rect x="466" y="0" width="1" height="19" fill="#a0a0a0"/>
<rect x="499" y="0" width="1" height="19" fill="#a0a0a0"/>
<rect x="528" y="0" width="1" height="19" fill="#a0a0a0"/>
<rect x="649" y="0" width="1" height="19" fill="#a0a0a0"/>
<rect x="716" y="0" width="1" height="19" fill="#a0a0a0"/>
<rect x="955" y="0" width="1" height="19" fill="#a0a0a0"/>
<rect x="1133" y="0" width="1" height="19" fill="#a0a0a0"/>
<rect x="1214" y="0" width="1" height="19" fill="#a0a0a0"/>
<rect x="285" y="2" width="3" height="1" fill="#b4b4b4"/>
<rect x="285" y="4" width="3" height="1" fill="#b4b4b4"/>
<rect x="285" y="6" width="3" height="1" fill="#b4b4b4"/>
<rect x="285" y="8" width="3" height="1" fill="#b4b4b4"/>
<rect x="285" y="10" width="3" height="1" fill="#b4b4b4"/>
<rect x="285" y="12" width="3" height="1" fill="#b4b4b4"/>
<rect x="285" y="14" width="3" height="1" fill="#b4b4b4"/>
<rect x="285" y="16" width="3" height="1" fill="#b4b4b4"/>
<rect x="471" y="2" width="3" height="1" fill="#b4b4b4"/>
<rect x="471" y="4" width="3" height="1" fill="#b4b4b4"/>
<rect x="471" y="6" width="3" height="1" fill="#b4b4b4"/>
<rect x="471" y="8" width="3" height="1" fill="#b4b4b4"/>
<rect x="471" y="10" width="3" height="1" fill="#b4b4b4"/>
<rect x="471" y="12" width="3" height="1" fill="#b4b4b4"/>
<rect x="471" y="14" width="3" height="1" fill="#b4b4b4"/>
<rect x="471" y="16" width="3" height="1" fill="#b4b4b4"/>
<rect x="654" y="2" width="3" height="1" fill="#b4b4b4"/>
<rect x="654" y="4" width="3" height="1" fill="#b4b4b4"/>
<rect x="654" y="6" width="3" height="1" fill="#b4b4b4"/>
<rect x="654" y="8" width="3" height="1" fill="#b4b4b4"/>
<rect x="654" y="10" width="3" height="1" fill="#b4b4b4"/>
<rect x="654" y="12" width="3" height="1" fill="#b4b4b4"/>
<rect x="654" y="14" width="3" height="1" fill="#b4b4b4"/>
<rect x="654" y="16" width="3" height="1" fill="#b4b4b4"/>
<rect x="960" y="2" width="3" height="1" fill="#b4b4b4"/>
<rect x="960" y="4" width="3" height="1" fill="#b4b4b4"/>
<rect x="960" y="6" width="3" height="1" fill="#b4b4b4"/>
<rect x="960" y="8" width="3" height="1" fill="#b4b4b4"/>
<rect x="960" y="10" width="3" height="1" fill="#b4b4b4"/>
<rect x="960" y="12" width="3" height="1" fill="#b4b4b4"/>
<rect x="960" y="14" width="3" height="1" fill="#b4b4b4"/>
<rect x="960" y="16" width="3" height="1" fill="#b4b4b4"/>
<rect x="320" y="0" width="24" height="19" fill="#f8f8f8"/>
<rect x="472" y="0" width="24" height="19" fill="#f8f8f8"/>
<rect x="500" y="0" width="24" height="19" fill="#f8f8f8"/>
<rect x="660" y="0" width="24" height="19" fill="#f8f8f8"/>
<rect x="1134" y="0" width="24" height="19" fill="#f8f8f8"/>
<rect x="-4.5" y="2.5" width="12" height="13" rx="1.5" fill="#fff" stroke="#2f74c8" stroke-width="1.3"/>
<g fill="#d4e2fa"><rect x="0" y="4" width="7" height="1"/><rect x="0" y="6" width="7" height="1"/><rect x="0" y="8" width="7" height="1"/><rect x="0" y="10" width="7" height="1"/></g>
<rect x="20.5" y="1.5" width="12" height="13" rx="1" fill="#fff" stroke="#b4ac96"/><path d="M23.5 3v5M23 7h-1M29.5 3v3" stroke="#606060"/>
<circle cx="28.5" cy="10" r="5" fill="#e4f4fc" stroke="#4a86d8" stroke-width="1.2"/><rect x="27" y="7" width="2" height="5" fill="#a8b4c0"/><line x1="32.5" y1="14" x2="36.5" y2="18" stroke="#c89a10" stroke-width="2.6"/>
<path d="M55.5 1.5h8l3.5 3.5v10h-11.5z" fill="#fff" stroke="#787878"/><path d="M63.5 1.5v3.5h3.5" fill="#e0e0e0" stroke="#787878"/>
<g fill="#909090"><rect x="57" y="3" width="3" height="2" fill="#808080"/><rect x="57" y="7" width="7" height="1"/><rect x="57" y="9" width="5" height="1"/><rect x="57" y="11" width="4" height="1"/></g>
<path d="M63.5 7.5h3v4h4v3h-4v4h-3v-4h-4v-3h4z" fill="#2ee02e" stroke="#149414" stroke-width="1"/>
<path d="M123 11 L130 3 L138 9 L131 17 Z" fill="#e8b820" stroke="#a8780c" stroke-width="1"/><path d="M125 11 L131 5 L136 9" fill="none" stroke="#f8e080" stroke-width="1.2"/>
<path d="M152.5 1.5h6l3 2v7h-9z" fill="#3a8ee8" stroke="#2060b0"/><rect x="154" y="5" width="5" height="1" fill="#fff"/>
<path d="M151 16.5 a3 3 0 0 1 2 -5 a4 4 0 0 1 7 -1 a3 3 0 0 1 4 3 a2 2 0 0 1 -1 3z" fill="#f4f6fa" stroke="#7a8aa8"/>
<circle cx="186" cy="9" r="7" fill="none" stroke="#8ab4e8"/><circle cx="186" cy="9" r="4.2" fill="none" stroke="#5a8ad8"/><circle cx="186" cy="9" r="1.8" fill="#3264c8"/><path d="M186.5 9v8" stroke="#30a030" stroke-width="1.6"/><path d="M187 17 a7 7 0 0 0 6 -6" fill="none" stroke="#50b050" stroke-width="1.3"/>
<path d="M205 7 a8 4 0 0 1 16 0 z" fill="#58aee0"/><ellipse cx="213" cy="4" rx="5" ry="3" fill="#7cc4ec"/><path d="M206 8h14l-6 9z" fill="#f2d040" stroke="#c8a020" stroke-width="0.8"/><circle cx="217" cy="13" r="4.2" fill="#d41c1c"/><rect x="215.5" y="11.5" width="3" height="3" fill="#fff"/>
<g stroke="#505050" stroke-width="1"><line x1="299.5" y1="4" x2="299.5" y2="17"/><line x1="297" y1="14.5" x2="310" y2="14.5"/></g>
<polygon points="299.5,2 297.5,5 301.5,5" fill="#505050"/><polygon points="312,14.5 309,12.5 309,16.5" fill="#505050"/>
<path d="M303.5 12v-8h2" fill="none" stroke="#20a020" stroke-width="1.5"/><path d="M303 11h-2" stroke="#20a020" stroke-width="1.5"/>
<g stroke="#505050" stroke-width="1"><line x1="327.5" y1="4" x2="327.5" y2="17"/><line x1="325" y1="14.5" x2="338" y2="14.5"/></g>
<polygon points="327.5,2 325.5,5 329.5,5" fill="#505050"/><polygon points="340,14.5 337,12.5 337,16.5" fill="#505050"/>
<rect x="331" y="3" width="4" height="8" fill="#30d030" stroke="#108010"/><line x1="333" y1="1" x2="333" y2="13" stroke="#108010"/>
<g stroke="#505050" stroke-width="1"><line x1="355.5" y1="4" x2="355.5" y2="17"/><line x1="353" y1="14.5" x2="366" y2="14.5"/></g>
<polygon points="355.5,2 353.5,5 357.5,5" fill="#505050"/><polygon points="368,14.5 365,12.5 365,16.5" fill="#505050"/>
<path d="M354 12 L359 6 L361 6 L366 10" fill="none" stroke="#20a020" stroke-width="1.2"/>
<circle cx="391" cy="7" r="5.5" fill="#e0f0ff" stroke="#3c78d0" stroke-width="1.3"/><line x1="395" y1="11" x2="400" y2="16" stroke="#c8a030" stroke-width="2.5"/>
<line x1="388" y1="7" x2="394" y2="7" stroke="#3c78d0" stroke-width="1.5"/>
<line x1="391" y1="4" x2="391" y2="10" stroke="#3c78d0" stroke-width="1.5"/>
<circle cx="419" cy="7" r="5.5" fill="#e0f0ff" stroke="#3c78d0" stroke-width="1.3"/><line x1="423" y1="11" x2="428" y2="16" stroke="#c8a030" stroke-width="2.5"/>
<line x1="416" y1="7" x2="422" y2="7" stroke="#3c78d0" stroke-width="1.5"/>
<rect x="441" y="1" width="8" height="8" fill="#3a9a30"/><rect x="449" y="1" width="8" height="8" fill="#3070d0"/><rect x="441" y="9" width="8" height="8" fill="#3070d0"/><rect x="449" y="9" width="8" height="8" fill="#3a9a30"/>
<g fill="#fff"><rect x="443" y="5" width="4" height="2"/><rect x="451" y="5" width="4" height="2"/><rect x="443" y="13" width="4" height="2"/><rect x="451" y="13" width="4" height="2"/></g>
<g stroke="#505050" stroke-width="1"><line x1="479.5" y1="4" x2="479.5" y2="17"/><line x1="477" y1="14.5" x2="490" y2="14.5"/></g>
<polygon points="479.5,2 477.5,5 481.5,5" fill="#505050"/><polygon points="492,14.5 489,12.5 489,16.5" fill="#505050"/>
<polygon points="484,5 484,12 489,8.5" fill="none" stroke="#20a020" stroke-width="1.3"/>
<g stroke="#505050" stroke-width="1"><line x1="507.5" y1="4" x2="507.5" y2="17"/><line x1="505" y1="14.5" x2="518" y2="14.5"/></g>
<polygon points="507.5,2 505.5,5 509.5,5" fill="#505050"/><polygon points="520,14.5 517,12.5 517,16.5" fill="#505050"/>
<line x1="513.5" y1="3" x2="513.5" y2="13" stroke="#2070b0"/><path d="M519 8.5h-4 M516 6l-2 2.5 2 2.5" fill="none" stroke="#d04010" stroke-width="1.3"/>
<path d="M538.5 1.5h8l3.5 3.5v10h-11.5z" fill="#fff" stroke="#787878"/><path d="M546.5 1.5v3.5h3.5" fill="#e0e0e0" stroke="#787878"/>
<g fill="#909090"><rect x="540" y="3" width="3" height="2" fill="#808080"/><rect x="540" y="7" width="7" height="1"/><rect x="540" y="9" width="5" height="1"/><rect x="540" y="11" width="4" height="1"/></g>
<path d="M546.5 7.5h3v4h4v3h-4v4h-3v-4h-4v-3h4z" fill="#2ee02e" stroke="#149414" stroke-width="1"/>
<polygon points="558,8 564,8 561,11" fill="#000"/>
<polygon points="598,8 604,8 601,11" fill="#000"/>
<polygon points="637,8 643,8 640,11" fill="#000"/>
<polygon points="943,8 949,8 946,11" fill="#000"/>
<circle cx="584" cy="9" r="7.5" fill="#2070d0"/><circle cx="584" cy="9" r="5.5" fill="#f8f8f8"/><path d="M584 5v4h3" fill="none" stroke="#303030" stroke-width="1.2"/>
<rect x="615.5" y="2.5" width="16" height="13" fill="#fff" stroke="#3c78c8"/><rect x="616" y="3" width="15" height="2" fill="#6aa0e0"/><line x1="616" y1="10" x2="631" y2="10" stroke="#3c78c8"/><path d="M617 8l3-1 3 1 3-1 3 0" fill="none" stroke="#a02010"/><path d="M617 14l3-1 3 0 3-2 3 2" fill="none" stroke="#20a020"/>
<path d="M667 2v13l3-3 2 4 2-1-2-4h4z" fill="#505050"/>
<g stroke="#404040"><line x1="699.5" y1="2" x2="699.5" y2="17"/><line x1="692" y1="9.5" x2="707" y2="9.5"/></g>
<line x1="733.5" y1="3" x2="733.5" y2="16" stroke="#404040" stroke-width="1.2"/>
<line x1="756" y1="9.5" x2="768" y2="9.5" stroke="#404040" stroke-width="1.2"/>
<line x1="784" y1="16" x2="796" y2="4" stroke="#404040"/>
<g stroke="#404040"><line x1="810" y1="14" x2="823" y2="3"/><line x1="812" y1="16" x2="825" y2="5"/><line x1="813" y1="8" x2="815" y2="15"/><line x1="817" y1="6" x2="819" y2="13"/></g>
<g stroke="#404040" stroke-dasharray="1 1"><line x1="838" y1="2.5" x2="852" y2="2.5"/><line x1="838" y1="5.5" x2="852" y2="5.5"/><line x1="838" y1="9.5" x2="852" y2="9.5"/><line x1="838" y1="13.5" x2="848" y2="13.5"/></g>
<rect x="896.5" y="2.5" width="11" height="13" fill="none" stroke="#505050" stroke-dasharray="1 1"/>
<polygon points="926,4 929,1 932,4 929,7" fill="#505050"/><path d="M925 8l3 3 5-6" fill="none" stroke="#404040" stroke-width="1.3"/><polygon points="931,12 937,12 934,16" fill="#505050"/>
<circle cx="1690" cy="6" r="3.5" fill="none" stroke="#2060d0" stroke-width="1.5"/><line x1="1687" y1="9" x2="1683" y2="13" stroke="#2060d0" stroke-width="2"/>
<ellipse cx="1720" cy="6" rx="6" ry="4.5" fill="#f8f8f8" stroke="#909090"/><ellipse cx="1711" cy="10" rx="5" ry="4" fill="#f8f8f8" stroke="#909090"/>
<text x="820" y="18" font-size="7" fill="#404040" text-anchor="start" font-weight="bold" >E</text>
<text x="848" y="18" font-size="7" fill="#404040" text-anchor="start" font-weight="bold" >F</text>
<text x="869" y="15" font-size="12" fill="#505050" text-anchor="start" font-weight="bold" >A</text>
<text x="898" y="14" font-size="11" fill="#505050" text-anchor="start" font-weight="bold" >T</text>
<text x="971" y="13" font-size="11" fill="#303030" text-anchor="start" font-weight="normal" textLength="12" lengthAdjust="spacingAndGlyphs" >M1</text>
<text x="999" y="13" font-size="11" fill="#303030" text-anchor="start" font-weight="normal" textLength="12" lengthAdjust="spacingAndGlyphs" >M5</text>
<text x="1024" y="13" font-size="11" fill="#303030" text-anchor="start" font-weight="normal" textLength="18" lengthAdjust="spacingAndGlyphs" >M15</text>
<text x="1052" y="13" font-size="11" fill="#303030" text-anchor="start" font-weight="normal" textLength="18" lengthAdjust="spacingAndGlyphs" >M30</text>
<text x="1083" y="13" font-size="11" fill="#303030" text-anchor="start" font-weight="normal" textLength="12" lengthAdjust="spacingAndGlyphs" >H1</text>
<text x="1110" y="13" font-size="11" fill="#303030" text-anchor="start" font-weight="normal" textLength="14" lengthAdjust="spacingAndGlyphs" >H4</text>
<text x="1139" y="13" font-size="11" fill="#303030" text-anchor="start" font-weight="normal" textLength="12" lengthAdjust="spacingAndGlyphs" >D1</text>
<text x="1167" y="13" font-size="11" fill="#303030" text-anchor="start" font-weight="normal" textLength="14" lengthAdjust="spacingAndGlyphs" >W1</text>
<text x="1193" y="13" font-size="11" fill="#303030" text-anchor="start" font-weight="normal" textLength="15" lengthAdjust="spacingAndGlyphs" >MN</text>
<text x="74" y="12.5" font-size="12" fill="#000" font-family="Liberation Sans, sans-serif">新订单</text>
<text x="227" y="12.5" font-size="12" fill="#000" font-family="Liberation Sans, sans-serif">自动交易</text>
</svg>
</body></html>
